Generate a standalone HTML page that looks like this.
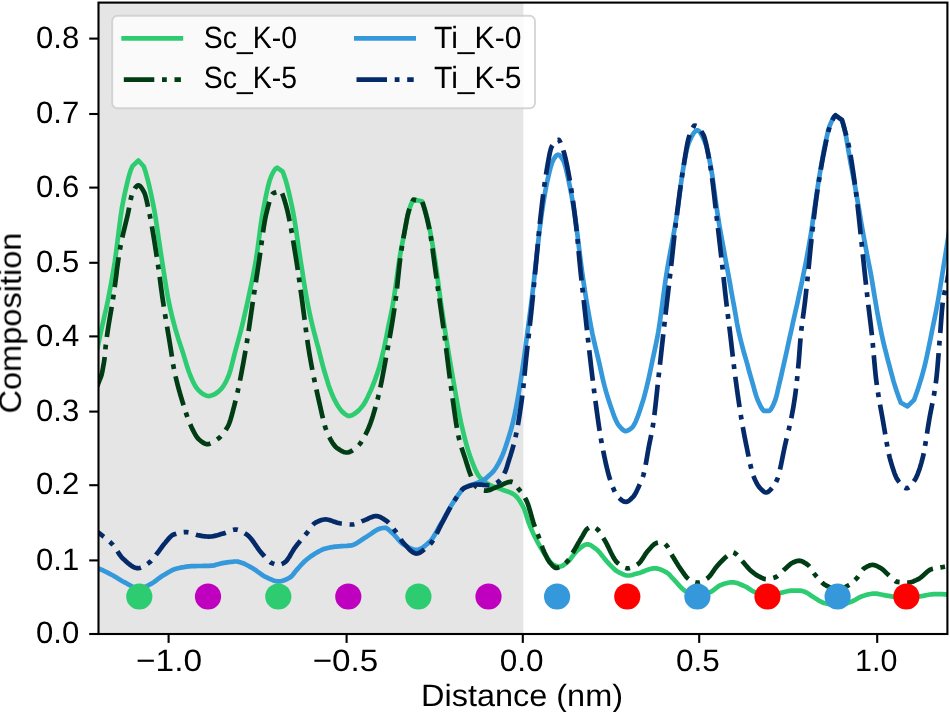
<!DOCTYPE html>
<html><head><meta charset="utf-8"><title>chart</title>
<style>
html,body{margin:0;padding:0;background:#fff;}
svg{display:block;text-rendering:geometricPrecision;font-family:"Liberation Sans",sans-serif;}
</style></head><body>
<svg width="950" height="712" viewBox="0 0 950 712">
<defs><clipPath id="ax"><rect x="98.5" y="2.6" width="848.9" height="631.4"/></clipPath></defs>
<rect x="0" y="0" width="950" height="712" fill="#ffffff"/>
<rect x="98.5" y="2.6" width="424.9" height="631.4" fill="#e5e5e5"/>

<g clip-path="url(#ax)" fill="none" stroke-linejoin="round">
<path d="M97.0,350.0 L98.5,343.0 L100.0,336.2 L101.4,329.5 L102.9,322.9 L104.4,316.2 L105.9,309.8 L107.4,303.1 L108.8,295.8 L110.3,288.0 L111.8,279.7 L113.3,271.0 L114.8,261.8 L116.2,251.5 L117.7,239.8 L119.2,227.7 L120.7,216.4 L122.1,206.9 L123.6,199.3 L125.1,192.1 L126.6,185.4 L128.1,179.3 L129.5,174.0 L131.0,169.5 L132.5,166.1 L138.4,160.5 L143.8,166.5 L145.3,171.1 L146.8,176.3 L148.3,182.1 L149.8,188.5 L151.3,195.3 L152.8,202.5 L154.3,210.2 L155.8,219.2 L157.3,229.0 L158.8,239.3 L160.3,249.5 L161.8,259.4 L163.3,269.0 L164.8,278.6 L166.3,288.0 L167.8,296.7 L169.3,304.2 L170.8,311.1 L172.3,317.4 L173.8,323.2 L175.3,328.7 L176.8,333.7 L178.2,338.4 L179.7,342.9 L181.2,347.4 L182.7,352.0 L184.2,356.9 L185.7,361.9 L187.2,366.7 L188.7,371.2 L190.2,375.3 L191.7,378.8 L193.2,382.1 L194.7,385.0 L196.2,387.5 L197.7,389.3 L199.2,390.9 L200.7,392.3 L202.2,393.5 L203.7,394.4 L205.2,395.1 L206.7,395.7 L208.2,396.1 L209.7,396.0 L211.2,395.6 L212.7,395.1 L214.2,394.4 L215.7,393.6 L217.2,392.5 L218.7,391.3 L220.2,389.9 L221.7,388.3 L223.2,386.4 L224.7,383.9 L226.2,381.1 L227.7,377.8 L229.2,374.1 L230.7,369.2 L232.2,363.5 L233.7,357.4 L235.2,351.5 L236.7,346.0 L238.2,340.5 L239.7,335.0 L241.2,329.3 L242.7,323.4 L244.1,317.1 L245.6,310.6 L247.1,303.9 L248.6,297.0 L250.1,290.1 L251.6,282.9 L253.1,275.4 L254.6,267.5 L256.1,258.9 L257.6,248.8 L259.1,237.6 L260.6,226.4 L262.1,216.2 L263.6,207.8 L265.1,200.2 L266.6,192.9 L268.1,186.3 L269.6,180.7 L271.1,176.4 L272.6,173.3 L274.1,170.7 L275.6,168.7 L277.1,167.7 L282.6,171.5 L284.1,175.4 L285.6,180.0 L287.1,185.4 L288.6,191.3 L290.0,197.6 L291.5,204.4 L293.0,211.6 L294.5,220.0 L296.0,229.5 L297.5,239.8 L299.0,250.1 L300.5,260.0 L302.0,269.4 L303.4,278.9 L304.9,288.2 L306.4,296.8 L307.9,304.7 L309.4,312.1 L310.9,319.0 L312.4,325.5 L313.9,331.5 L315.4,337.1 L316.8,342.6 L318.3,348.0 L319.8,353.8 L321.3,359.9 L322.8,365.7 L324.3,371.0 L325.8,376.0 L327.3,380.9 L328.7,385.5 L330.2,389.7 L331.7,393.5 L333.2,397.0 L334.7,400.2 L336.2,403.0 L337.7,405.6 L339.2,407.8 L340.7,409.8 L342.1,411.6 L343.6,412.9 L345.1,414.1 L346.6,415.1 L348.1,415.8 L349.6,416.0 L351.1,415.6 L352.6,414.9 L354.1,414.0 L355.5,413.0 L357.0,411.9 L358.5,410.6 L360.0,409.0 L361.5,407.3 L363.0,405.4 L364.5,403.1 L366.0,400.5 L367.5,397.5 L368.9,394.4 L370.4,391.2 L371.9,387.7 L373.4,384.0 L374.9,380.1 L376.4,375.9 L377.9,371.4 L379.4,366.7 L380.9,361.4 L382.3,355.5 L383.8,349.2 L385.3,342.2 L386.8,334.6 L388.3,327.0 L389.8,319.7 L391.3,312.4 L392.8,304.7 L394.2,296.0 L395.7,285.8 L397.2,274.8 L398.7,264.2 L400.2,254.7 L401.7,246.4 L403.2,238.7 L404.7,231.1 L406.2,223.1 L407.6,215.6 L409.1,209.9 L410.6,205.5 L412.1,201.9 L413.6,199.6 L422.0,201.2 L423.5,205.2 L425.0,210.0 L426.5,215.4 L428.0,221.4 L429.5,228.3 L431.0,236.1 L432.5,244.5 L434.0,253.4 L435.5,263.0 L437.0,273.9 L438.5,285.3 L440.0,296.5 L441.5,306.9 L443.0,317.1 L444.5,327.1 L446.0,336.8 L447.5,346.2 L449.0,355.4 L450.5,364.3 L452.0,373.0 L453.5,381.6 L455.0,390.3 L456.5,398.9 L458.0,407.2 L459.5,415.1 L461.0,422.5 L462.5,429.1 L464.0,435.3 L465.5,441.2 L467.0,446.6 L468.5,451.6 L470.0,456.0 L471.5,460.1 L473.0,464.0 L474.5,467.7 L476.0,471.1 L477.5,473.9 L479.0,476.3 L480.5,478.0 L482.0,479.5 L483.5,480.8 L485.0,482.0 L486.5,483.0 L488.0,483.9 L489.5,484.7 L491.0,485.5 L492.5,486.2 L494.0,486.7 L495.5,487.3 L497.0,487.8 L498.5,488.3 L500.0,488.8 L501.5,489.4 L503.0,490.0 L504.5,490.5 L506.0,491.0 L507.5,491.5 L509.0,492.0 L510.5,492.6 L512.0,493.4 L513.5,494.2 L515.0,495.3 L516.5,496.7 L518.0,498.5 L519.5,500.6 L521.0,503.0 L522.5,505.6 L524.0,508.5 L525.5,512.6 L527.0,517.6 L528.5,522.2 L530.0,526.0 L531.5,529.5 L533.0,532.9 L534.5,536.0 L536.0,539.1 L537.5,542.0 L539.0,544.7 L540.5,547.4 L542.0,549.9 L543.5,552.3 L545.0,554.6 L546.5,556.7 L548.0,558.9 L549.5,560.9 L551.0,562.7 L552.5,564.2 L554.0,565.0 L555.5,565.7 L557.0,566.2 L558.5,566.5 L560.0,566.6 L561.5,566.2 L563.0,565.5 L564.5,564.4 L566.0,563.3 L567.5,562.2 L569.0,560.7 L570.5,558.9 L572.0,556.9 L573.5,554.9 L575.0,553.0 L576.5,551.3 L578.0,550.0 L579.5,548.7 L581.0,547.5 L582.5,546.3 L584.0,545.3 L585.5,544.6 L587.0,544.3 L588.5,544.4 L590.0,544.9 L591.5,545.7 L593.0,546.8 L594.5,547.9 L596.0,549.0 L597.5,550.2 L599.0,551.8 L600.5,553.6 L602.0,555.5 L603.5,557.4 L605.0,559.3 L606.5,561.1 L608.0,562.7 L609.5,564.3 L611.0,565.9 L612.5,567.4 L614.0,568.9 L615.5,570.2 L617.0,571.2 L618.5,572.1 L620.0,572.9 L621.5,573.6 L623.0,574.3 L624.5,574.9 L626.0,575.3 L627.5,575.5 L629.0,575.5 L630.5,575.3 L632.0,575.0 L633.5,574.6 L635.0,574.1 L636.5,573.7 L638.0,573.3 L639.5,572.9 L641.0,572.4 L642.5,571.8 L644.0,571.2 L645.5,570.6 L647.0,570.1 L648.5,569.5 L650.0,569.1 L651.5,568.7 L653.0,568.4 L654.5,568.3 L656.0,568.4 L657.5,568.6 L659.0,569.0 L660.5,569.5 L662.0,570.1 L663.5,570.8 L665.0,571.6 L666.5,572.4 L668.0,573.4 L669.5,574.8 L671.0,576.5 L672.5,578.2 L674.0,579.7 L675.5,581.3 L677.0,583.0 L678.5,584.7 L680.0,586.4 L681.5,588.0 L683.0,589.4 L684.5,590.5 L686.0,591.4 L687.5,592.2 L689.0,593.0 L690.5,593.8 L692.0,594.4 L693.5,594.9 L695.0,595.3 L696.5,595.5 L698.0,595.5 L699.5,595.3 L701.0,595.1 L702.5,594.7 L704.0,594.3 L705.5,593.8 L707.0,593.3 L708.5,592.7 L710.0,592.1 L711.5,591.5 L713.0,590.5 L714.5,589.4 L716.0,588.2 L717.5,587.0 L719.0,585.9 L720.5,585.2 L722.0,584.6 L723.5,584.1 L725.0,583.6 L726.5,583.2 L728.0,582.8 L729.5,582.5 L731.0,582.4 L732.5,582.3 L734.0,582.4 L735.5,582.7 L737.0,583.1 L738.5,583.6 L740.0,584.2 L741.5,584.8 L743.0,585.5 L744.5,586.1 L746.0,586.8 L747.5,587.8 L749.0,588.8 L750.5,589.8 L752.0,590.7 L753.5,591.5 L755.0,592.1 L756.5,592.7 L758.0,593.2 L759.5,593.7 L761.0,594.2 L762.5,594.6 L764.0,594.9 L765.5,595.1 L767.0,595.2 L768.5,595.2 L770.0,595.0 L771.5,594.8 L773.0,594.5 L774.5,594.2 L776.0,593.9 L777.5,593.5 L779.0,593.2 L780.5,592.9 L782.0,592.6 L783.5,592.2 L785.0,591.8 L786.5,591.5 L788.0,591.1 L789.5,590.8 L791.0,590.6 L792.5,590.6 L794.0,590.6 L795.5,590.6 L797.0,590.6 L798.5,590.6 L800.0,590.6 L801.5,590.8 L803.0,591.2 L804.5,591.7 L806.0,592.4 L807.5,593.1 L809.0,594.1 L810.5,595.2 L812.0,596.2 L813.5,597.1 L815.0,598.1 L816.5,599.1 L818.0,600.0 L819.5,600.9 L821.0,601.7 L822.5,602.4 L824.0,602.9 L825.5,603.3 L827.0,603.7 L828.5,604.1 L830.0,604.5 L831.5,604.8 L833.0,605.1 L834.5,605.3 L836.0,605.4 L837.5,605.5 L839.0,605.4 L840.5,605.3 L842.0,604.9 L843.5,604.5 L845.0,604.1 L846.5,603.5 L848.0,602.9 L849.5,602.3 L851.0,601.7 L852.5,601.2 L854.0,600.5 L855.5,599.7 L857.0,598.8 L858.5,597.9 L860.0,597.1 L861.5,596.5 L863.0,595.9 L864.5,595.5 L866.0,595.0 L867.5,594.6 L869.0,594.3 L870.5,594.0 L872.0,593.7 L873.5,593.6 L875.0,593.6 L876.5,593.7 L878.0,593.9 L879.5,594.2 L881.0,594.5 L882.5,594.8 L884.0,595.1 L885.5,595.4 L887.0,595.7 L888.5,595.9 L890.0,596.1 L891.5,596.4 L893.0,596.6 L894.5,596.8 L896.0,597.1 L897.5,597.3 L899.0,597.5 L900.5,597.7 L902.0,597.8 L903.5,597.9 L905.0,598.0 L906.5,598.0 L908.0,597.9 L909.5,597.8 L911.0,597.7 L912.5,597.5 L914.0,597.3 L915.5,597.0 L917.0,596.8 L918.5,596.5 L920.0,596.3 L921.5,596.1 L923.0,595.9 L924.5,595.6 L926.0,595.3 L927.5,595.0 L929.0,594.7 L930.5,594.5 L932.0,594.3 L933.5,594.1 L935.0,594.1 L936.5,594.1 L938.0,594.1 L939.5,594.1 L941.0,594.2 L942.5,594.2 L944.0,594.3 L945.5,594.4 L947.0,594.6 L948.5,594.8 L950.0,595.0" stroke="#2ecc71" stroke-width="4.7" stroke-linecap="square"/>
<g stroke-width="4.7">
<path d="M95.0,392.0 L95.5,390.8 L96.0,389.6 L96.5,388.3 L97.0,387.0 L97.5,385.7 L98.0,384.3 L98.5,382.9 L99.0,381.5 L99.5,380.3 L100.1,378.9 L100.7,377.4 L101.2,376.0 L101.6,374.7 L102.0,373.0 L102.3,371.6 L102.6,370.0 L102.9,368.4 L103.2,366.7 L103.5,365.0 L103.8,363.3 L104.1,361.4 L104.3,360.1 L104.5,358.7 L104.7,357.1 L104.9,355.1 L105.1,352.7 L105.3,350.3 L105.5,348.0 L105.7,346.1 L105.9,344.4 L106.1,342.8 L106.3,341.2 L106.5,339.6 L106.7,338.0 L106.9,336.5 L107.1,335.1 L107.3,333.7 L107.5,332.3 L107.7,330.9 L107.9,329.6 L108.1,328.3 L108.4,326.4 L108.7,324.5 L109.0,322.7 L109.3,320.9 L109.6,319.1 L109.9,317.4 L110.2,315.6 L110.5,313.9 L110.8,312.2 L111.1,310.5 L111.4,308.7 L111.7,307.0 L112.0,305.2 L112.3,303.4 L112.6,301.5 L112.9,299.6 L113.1,298.3 L113.3,297.0 L113.5,295.6 L113.7,294.3 L113.9,292.9 L114.1,291.4 L114.3,290.0 L114.5,288.6 L114.7,287.1 L114.9,285.6 L115.1,284.1 L115.3,282.6 L115.5,281.1 L115.7,279.6 L115.9,278.1 L116.1,276.6 L116.3,275.1 L116.5,273.6 L116.7,272.1 L116.8,270.6 L117.0,269.2 L117.2,267.7 L117.4,266.2 L117.6,264.8 L117.8,263.3 L118.0,261.9 L118.2,260.5 L118.4,259.1 L118.6,257.8 L118.8,256.4 L119.0,255.1 L119.3,253.2 L119.6,251.4 L119.9,249.6 L120.2,247.9 L120.5,246.3 L120.8,244.7 L121.1,243.2 L121.4,241.7 L121.7,240.3 L122.0,238.9 L122.3,237.5 L122.6,236.1 L122.9,234.8 L123.2,233.5 L123.5,232.2 L123.9,230.5 L124.3,228.9 L124.7,227.2 L125.1,225.6 L125.5,224.0 L125.9,222.3 L126.3,220.7 L126.7,219.0 L127.0,217.8 L127.3,216.5 L127.6,215.2 L127.9,213.8 L128.2,212.5 L128.5,211.0 L128.8,209.5 L129.1,207.9 L129.4,206.3 L129.7,204.7 L130.0,203.1 L130.3,201.5 L130.6,200.0 L130.9,198.6 L131.2,197.2 L131.6,195.6 L132.0,194.3 L132.5,193.0 L133.1,191.7 L133.7,190.6 L134.4,189.3 L135.1,188.1 L135.9,187.0 L136.8,186.0 L138.0,185.3 L139.3,185.5 L140.4,186.4 L141.3,187.5 L142.1,188.7 L142.8,189.8 L143.5,191.1 L144.2,192.4 L144.7,193.6 L145.2,195.1 L145.6,196.4 L146.0,197.9 L146.4,199.5 L146.7,200.8 L147.0,202.1 L147.3,203.5 L147.6,204.9 L147.9,206.3 L148.2,207.8 L148.5,209.2 L148.8,210.6 L149.1,212.1 L149.4,213.5 L149.7,214.9 L150.0,216.4 L150.3,217.9 L150.6,219.4 L150.9,221.0 L151.2,222.6 L151.5,224.3 L151.8,225.9 L152.1,227.6 L152.4,229.4 L152.7,231.1 L153.0,232.9 L153.3,234.7 L153.6,236.5 L153.9,238.4 L154.2,240.2 L154.5,242.1 L154.8,244.0 L155.1,245.9 L155.4,247.8 L155.6,249.1 L155.8,250.4 L156.0,251.7 L156.2,253.0 L156.4,254.3 L156.6,255.6 L156.8,256.9 L157.0,258.2 L157.2,259.5 L157.4,260.8 L157.6,262.2 L157.8,263.5 L158.0,264.9 L158.2,266.3 L158.4,267.7 L158.6,269.1 L158.8,270.6 L159.0,272.0 L159.2,273.5 L159.4,275.0 L159.6,276.5 L159.8,278.0 L160.0,279.5 L160.2,281.0 L160.4,282.6 L160.6,284.1 L160.8,285.6 L161.0,287.1 L161.2,288.6 L161.4,290.1 L161.6,291.5 L161.8,293.0 L162.0,294.4 L162.2,295.9 L162.4,297.3 L162.6,298.6 L162.8,300.0 L163.0,301.3 L163.2,302.7 L163.4,304.0 L163.6,305.3 L163.8,306.6 L164.1,308.5 L164.4,310.4 L164.7,312.3 L165.0,314.2 L165.3,316.0 L165.6,317.9 L165.9,319.7 L166.2,321.5 L166.5,323.3 L166.8,325.1 L167.1,326.9 L167.4,328.7 L167.7,330.5 L168.0,332.3 L168.3,334.1 L168.6,335.9 L168.9,337.7 L169.2,339.5 L169.5,341.3 L169.8,343.2 L170.1,345.0 L170.4,346.9 L170.7,348.7 L171.0,350.6 L171.3,352.5 L171.5,353.9 L171.7,355.2 L171.9,356.6 L172.1,358.0 L172.3,359.3 L172.5,360.6 L172.7,361.9 L173.0,363.8 L173.3,365.5 L173.6,367.1 L173.9,368.6 L174.2,370.1 L174.5,371.5 L174.8,372.9 L175.1,374.3 L175.4,375.6 L175.7,377.0 L176.0,378.2 L176.3,379.5 L176.7,381.2 L177.1,382.8 L177.5,384.3 L177.9,385.9 L178.3,387.4 L178.7,388.9 L179.1,390.3 L179.5,391.7 L179.9,393.1 L180.3,394.5 L180.7,395.9 L181.1,397.2 L181.5,398.5 L181.9,399.9 L182.3,401.2 L182.7,402.5 L183.1,403.8 L183.5,405.1 L183.9,406.4 L184.3,407.7 L184.7,409.0 L185.1,410.2 L185.6,411.8 L186.1,413.3 L186.6,414.8 L187.1,416.2 L187.6,417.6 L188.1,419.0 L188.6,420.3 L189.1,421.6 L189.6,422.9 L190.2,424.3 L190.8,425.6 L191.4,426.9 L192.0,428.2 L192.6,429.4 L193.2,430.6 L193.8,431.8 L194.5,433.1 L195.2,434.4 L195.9,435.6 L196.7,436.8 L197.5,437.9 L198.4,438.9 L199.4,439.8 L200.5,440.7 L201.6,441.6 L202.7,442.4 L203.9,443.1 L205.1,443.7 L206.4,444.1 L207.7,444.2 L209.0,444.0 L210.3,443.6 L211.5,443.1 L212.7,442.4 L213.8,441.7 L214.9,441.0 L216.0,440.2 L217.1,439.4 L218.2,438.6 L219.2,437.8 L220.2,436.9 L221.2,435.8 L222.1,434.9 L223.0,433.8 L223.8,432.8 L224.6,431.7 L225.4,430.5 L226.2,429.2 L226.9,428.1 L227.6,426.9 L228.3,425.5 L228.9,424.1 L229.4,422.8 L229.9,421.4 L230.4,419.9 L230.8,418.6 L231.2,417.3 L231.6,415.9 L232.0,414.4 L232.4,413.0 L232.8,411.5 L233.2,409.9 L233.6,408.3 L234.0,406.8 L234.4,405.2 L234.8,403.6 L235.2,402.0 L235.6,400.4 L236.0,398.8 L236.4,397.1 L236.7,395.8 L237.0,394.5 L237.3,393.2 L237.6,391.9 L237.9,390.5 L238.2,389.1 L238.5,387.7 L238.8,386.3 L239.1,384.9 L239.4,383.4 L239.7,381.9 L240.0,380.4 L240.3,378.9 L240.6,377.4 L240.9,375.9 L241.2,374.3 L241.5,372.7 L241.8,371.1 L242.1,369.5 L242.4,367.9 L242.7,366.3 L243.0,364.7 L243.3,363.0 L243.6,361.4 L243.9,359.7 L244.2,358.0 L244.5,356.3 L244.8,354.6 L245.1,352.9 L245.4,351.2 L245.7,349.4 L246.0,347.7 L246.3,345.8 L246.6,344.0 L246.9,342.1 L247.2,340.2 L247.4,338.9 L247.6,337.6 L247.8,336.3 L248.0,334.9 L248.2,333.6 L248.4,332.2 L248.6,330.9 L248.8,329.5 L249.0,328.2 L249.2,326.8 L249.4,325.4 L249.6,324.0 L249.8,322.6 L250.0,321.2 L250.2,319.8 L250.4,318.5 L250.6,317.1 L250.8,315.7 L251.0,314.3 L251.2,312.9 L251.4,311.5 L251.6,310.1 L251.8,308.8 L252.0,307.4 L252.2,306.0 L252.4,304.7 L252.6,303.3 L252.8,302.0 L253.0,300.7 L253.2,299.3 L253.4,298.0 L253.6,296.7 L253.8,295.4 L254.0,294.1 L254.2,292.8 L254.4,291.5 L254.6,290.2 L254.8,288.9 L255.0,287.6 L255.2,286.3 L255.4,285.0 L255.6,283.7 L255.8,282.4 L256.0,281.1 L256.2,279.8 L256.4,278.5 L256.6,277.2 L256.8,275.9 L257.0,274.6 L257.2,273.3 L257.4,272.0 L257.6,270.7 L257.8,269.4 L258.0,268.1 L258.2,266.7 L258.4,265.4 L258.6,264.1 L258.8,262.8 L259.0,261.5 L259.2,260.2 L259.4,258.8 L259.6,257.4 L259.8,256.0 L260.0,254.6 L260.2,253.1 L260.4,251.7 L260.6,250.2 L260.8,248.7 L261.0,247.2 L261.2,245.7 L261.4,244.2 L261.6,242.7 L261.8,241.3 L262.0,239.8 L262.2,238.3 L262.4,236.8 L262.6,235.3 L262.8,233.9 L263.0,232.5 L263.2,231.1 L263.4,229.7 L263.6,228.3 L263.8,227.0 L264.0,225.7 L264.3,223.8 L264.6,222.0 L264.9,220.3 L265.2,218.7 L265.5,217.2 L265.8,215.8 L266.2,214.2 L266.6,212.5 L267.0,210.9 L267.4,209.3 L267.8,207.7 L268.2,206.1 L268.6,204.6 L269.0,203.1 L269.4,201.7 L269.8,200.4 L270.2,199.1 L270.7,197.7 L271.2,196.4 L271.8,195.1 L272.5,194.0 L273.5,193.2 L274.7,192.7 L276.0,192.2 L277.3,191.8 L278.6,191.5 L279.9,191.4 L281.2,191.3 L281.8,192.5 L282.3,193.7 L282.8,195.1 L283.3,196.5 L283.8,198.0 L284.2,199.2 L284.6,200.5 L285.0,201.9 L285.4,203.3 L285.8,204.7 L286.2,206.2 L286.6,207.7 L287.0,209.2 L287.4,210.8 L287.8,212.5 L288.1,213.8 L288.4,215.1 L288.7,216.5 L289.0,217.9 L289.3,219.4 L289.6,220.9 L289.9,222.4 L290.2,224.0 L290.5,225.6 L290.8,227.2 L291.1,228.8 L291.4,230.5 L291.7,232.2 L292.0,233.9 L292.3,235.7 L292.6,237.5 L292.9,239.3 L293.2,241.1 L293.5,242.9 L293.8,244.7 L294.1,246.5 L294.4,248.4 L294.7,250.3 L295.0,252.1 L295.3,254.0 L295.6,255.9 L295.9,257.7 L296.2,259.6 L296.5,261.5 L296.8,263.4 L297.0,264.7 L297.2,266.0 L297.4,267.3 L297.6,268.6 L297.8,270.0 L298.0,271.4 L298.2,272.7 L298.4,274.1 L298.6,275.5 L298.8,276.9 L299.0,278.3 L299.2,279.8 L299.4,281.2 L299.6,282.6 L299.8,284.1 L300.0,285.5 L300.2,287.0 L300.4,288.4 L300.6,289.9 L300.8,291.3 L301.0,292.8 L301.2,294.2 L301.4,295.7 L301.6,297.1 L301.8,298.6 L302.0,300.0 L302.2,301.4 L302.4,302.9 L302.6,304.4 L302.8,305.9 L303.0,307.4 L303.2,308.9 L303.4,310.4 L303.6,311.9 L303.8,313.5 L304.0,315.0 L304.2,316.6 L304.4,318.1 L304.6,319.7 L304.8,321.2 L305.0,322.8 L305.2,324.3 L305.4,325.9 L305.6,327.4 L305.8,329.0 L306.0,330.5 L306.2,332.0 L306.4,333.5 L306.6,335.0 L306.8,336.5 L307.0,337.9 L307.2,339.3 L307.4,340.8 L307.6,342.2 L307.8,343.5 L308.0,344.9 L308.2,346.2 L308.4,347.5 L308.7,349.4 L309.0,351.2 L309.3,353.0 L309.6,354.8 L309.9,356.5 L310.2,358.2 L310.5,359.9 L310.8,361.6 L311.1,363.2 L311.4,364.9 L311.7,366.5 L312.0,368.1 L312.3,369.7 L312.6,371.2 L312.9,372.7 L313.2,374.3 L313.5,375.8 L313.8,377.3 L314.1,378.7 L314.4,380.2 L314.7,381.7 L315.0,383.1 L315.3,384.5 L315.6,385.9 L315.9,387.3 L316.2,388.7 L316.5,390.1 L316.8,391.4 L317.1,392.8 L317.4,394.1 L317.7,395.5 L318.0,396.8 L318.3,398.1 L318.6,399.5 L318.9,400.8 L319.2,402.1 L319.5,403.4 L319.8,404.7 L320.1,406.1 L320.4,407.4 L320.7,408.7 L321.0,410.1 L321.3,411.4 L321.6,412.7 L321.9,414.1 L322.2,415.4 L322.5,416.6 L322.8,417.9 L323.2,419.6 L323.6,421.2 L324.0,422.7 L324.4,424.2 L324.8,425.6 L325.2,427.0 L325.6,428.3 L326.1,429.7 L326.6,431.0 L327.2,432.4 L327.8,433.8 L328.4,435.1 L329.0,436.4 L329.6,437.6 L330.2,438.8 L330.9,440.1 L331.6,441.3 L332.3,442.5 L333.1,443.7 L333.9,444.8 L334.8,445.9 L335.7,446.9 L336.7,447.8 L337.8,448.6 L338.9,449.3 L340.0,450.0 L341.2,450.7 L342.4,451.4 L343.6,451.9 L344.9,452.3 L346.2,452.5 L347.5,452.5 L348.8,452.2 L350.1,451.7 L351.3,451.1 L352.5,450.4 L353.6,449.6 L354.7,448.8 L355.8,448.0 L356.9,447.1 L357.9,446.2 L358.8,445.2 L359.7,444.2 L360.5,443.1 L361.3,441.9 L362.0,440.8 L362.7,439.6 L363.4,438.4 L364.1,437.2 L364.8,435.9 L365.4,434.7 L366.0,433.5 L366.6,432.3 L367.2,431.1 L367.8,429.8 L368.4,428.4 L368.9,427.2 L369.4,426.0 L369.9,424.6 L370.4,423.3 L370.9,421.9 L371.4,420.4 L371.9,418.9 L372.4,417.4 L372.8,416.2 L373.2,414.9 L373.6,413.6 L374.0,412.2 L374.4,410.9 L374.8,409.5 L375.2,408.1 L375.6,406.7 L376.0,405.2 L376.4,403.8 L376.8,402.3 L377.2,400.8 L377.6,399.3 L378.0,397.7 L378.4,396.0 L378.7,394.8 L379.0,393.5 L379.3,392.1 L379.6,390.8 L379.9,389.4 L380.2,388.0 L380.5,386.6 L380.8,385.1 L381.1,383.7 L381.4,382.2 L381.7,380.7 L382.0,379.2 L382.3,377.6 L382.6,376.1 L382.9,374.5 L383.2,372.9 L383.5,371.3 L383.8,369.7 L384.1,368.1 L384.4,366.5 L384.7,364.9 L385.0,363.2 L385.3,361.6 L385.6,359.9 L385.9,358.3 L386.2,356.6 L386.5,355.0 L386.8,353.3 L387.1,351.7 L387.4,350.1 L387.7,348.4 L388.0,346.8 L388.3,345.1 L388.6,343.5 L388.9,341.8 L389.2,340.1 L389.5,338.4 L389.8,336.8 L390.1,335.1 L390.4,333.3 L390.7,331.6 L391.0,329.9 L391.3,328.1 L391.6,326.3 L391.9,324.5 L392.2,322.7 L392.5,320.9 L392.8,319.0 L393.1,317.1 L393.4,315.2 L393.6,313.9 L393.8,312.5 L394.0,311.2 L394.2,309.9 L394.4,308.5 L394.6,307.1 L394.8,305.7 L395.0,304.3 L395.2,302.9 L395.4,301.5 L395.6,300.0 L395.8,298.5 L396.0,296.9 L396.2,295.3 L396.4,293.6 L396.6,291.8 L396.8,290.0 L397.0,288.2 L397.2,286.3 L397.4,284.4 L397.6,282.5 L397.8,280.6 L398.0,278.6 L398.2,276.7 L398.4,274.8 L398.6,272.9 L398.8,271.0 L399.0,269.1 L399.2,267.3 L399.4,265.5 L399.6,263.7 L399.8,262.0 L400.0,260.3 L400.2,258.7 L400.4,257.2 L400.6,255.8 L400.8,254.4 L401.0,253.0 L401.2,251.6 L401.4,250.3 L401.6,249.0 L401.8,247.7 L402.1,245.8 L402.4,244.0 L402.7,242.2 L403.0,240.4 L403.3,238.7 L403.6,237.0 L403.9,235.3 L404.2,233.6 L404.5,232.0 L404.8,230.4 L405.1,228.7 L405.4,227.0 L405.7,225.4 L406.0,223.8 L406.3,222.1 L406.6,220.6 L406.9,219.0 L407.2,217.6 L407.5,216.1 L407.8,214.8 L408.2,213.1 L408.6,211.7 L409.0,210.4 L409.4,209.1 L409.9,207.6 L410.4,206.1 L410.9,204.8 L411.4,203.5 L412.0,202.2 L412.7,200.8 L413.5,199.7 L422.0,201.2 L422.5,202.6 L423.0,204.0 L423.5,205.6 L423.9,206.9 L424.3,208.2 L424.7,209.6 L425.1,211.1 L425.5,212.6 L425.9,214.1 L426.3,215.7 L426.7,217.3 L427.1,218.9 L427.5,220.6 L427.8,221.9 L428.1,223.2 L428.4,224.6 L428.7,226.0 L429.0,227.5 L429.3,229.0 L429.6,230.5 L429.9,232.1 L430.2,233.7 L430.5,235.4 L430.8,237.1 L431.1,238.9 L431.4,240.8 L431.6,242.1 L431.8,243.5 L432.0,245.0 L432.2,246.4 L432.4,247.9 L432.6,249.4 L432.8,250.9 L433.0,252.5 L433.2,254.0 L433.4,255.5 L433.6,257.0 L433.8,258.5 L434.0,260.0 L434.2,261.5 L434.4,262.9 L434.6,264.4 L434.8,265.8 L435.0,267.3 L435.2,268.7 L435.4,270.2 L435.6,271.6 L435.8,273.1 L436.0,274.5 L436.2,276.0 L436.4,277.4 L436.6,278.9 L436.8,280.3 L437.0,281.8 L437.2,283.3 L437.4,284.7 L437.6,286.2 L437.8,287.6 L438.0,289.0 L438.2,290.5 L438.4,291.9 L438.6,293.4 L438.8,294.8 L439.0,296.2 L439.2,297.6 L439.4,299.1 L439.6,300.5 L439.8,301.9 L440.0,303.3 L440.2,304.7 L440.4,306.2 L440.6,307.6 L440.8,309.0 L441.0,310.4 L441.2,311.8 L441.4,313.3 L441.6,314.7 L441.8,316.1 L442.0,317.5 L442.2,319.0 L442.4,320.4 L442.6,321.8 L442.8,323.3 L443.0,324.7 L443.2,326.2 L443.4,327.6 L443.6,329.1 L443.8,330.6 L444.0,332.0 L444.2,333.5 L444.4,335.0 L444.6,336.5 L444.8,338.0 L445.0,339.5 L445.2,341.0 L445.4,342.6 L445.6,344.1 L445.8,345.7 L446.0,347.3 L446.2,348.9 L446.4,350.5 L446.6,352.1 L446.8,353.7 L447.0,355.3 L447.2,357.0 L447.4,358.6 L447.6,360.2 L447.8,361.8 L448.0,363.5 L448.2,365.1 L448.4,366.7 L448.6,368.3 L448.8,369.9 L449.0,371.5 L449.2,373.1 L449.4,374.7 L449.6,376.3 L449.8,377.8 L450.0,379.4 L450.2,380.9 L450.4,382.4 L450.6,383.9 L450.8,385.4 L451.0,386.9 L451.2,388.3 L451.4,389.7 L451.6,391.2 L451.8,392.6 L452.0,394.1 L452.2,395.5 L452.4,397.0 L452.6,398.4 L452.8,399.9 L453.0,401.4 L453.2,402.8 L453.4,404.3 L453.6,405.7 L453.8,407.2 L454.0,408.6 L454.2,410.0 L454.4,411.4 L454.6,412.8 L454.8,414.2 L455.0,415.6 L455.2,417.0 L455.4,418.3 L455.6,419.7 L455.8,421.0 L456.0,422.3 L456.3,424.2 L456.6,426.0 L456.9,427.8 L457.2,429.6 L457.5,431.2 L457.8,432.8 L458.1,434.3 L458.4,435.8 L458.7,437.2 L459.0,438.5 L459.4,440.1 L459.8,441.6 L460.2,443.1 L460.6,444.5 L461.0,445.9 L461.4,447.2 L461.8,448.4 L462.3,449.9 L462.8,451.4 L463.3,452.9 L463.8,454.4 L464.3,455.9 L464.8,457.4 L465.2,458.6 L465.6,459.9 L466.0,461.2 L466.4,462.5 L466.8,463.8 L467.2,465.1 L467.6,466.3 L468.0,467.6 L468.4,468.8 L468.9,470.4 L469.4,471.8 L469.9,473.2 L470.4,474.5 L470.9,475.8 L471.5,477.2 L472.0,478.4 L472.5,479.6 L473.1,481.0 L473.7,482.4 L474.3,483.7 L474.9,484.8 L475.6,486.0 L476.5,487.1 L477.6,487.9 L478.8,488.5 L480.0,489.1 L481.2,489.6 L482.5,490.1 L483.8,490.4 L485.1,490.6 L486.4,490.6 L487.7,490.4 L489.0,490.2 L490.3,489.7 L491.6,489.2 L492.8,488.7 L494.0,488.2 L495.2,487.6 L496.4,487.1 L497.7,486.6 L499.0,486.1 L500.2,485.6 L501.4,485.1 L502.6,484.5 L503.8,483.9 L505.0,483.4 L506.2,482.9 L507.5,482.4 L508.8,482.0 L510.1,481.8 L511.4,481.7 L512.7,482.1 L513.8,483.0 L514.8,484.0 L515.7,485.1 L516.5,486.2 L517.3,487.2 L518.1,488.3 L519.0,489.4 L519.9,490.5 L520.8,491.6 L521.6,492.7 L522.4,493.8 L523.2,494.9 L524.0,496.2 L524.7,497.3 L525.4,498.6 L526.1,499.9 L526.7,501.1 L527.3,502.5 L527.8,503.8 L528.3,505.3 L528.8,506.8 L529.2,508.1 L529.6,509.5 L530.0,510.8 L530.4,512.2 L530.8,513.6 L531.2,515.1 L531.6,516.5 L532.0,517.9 L532.4,519.3 L532.8,520.6 L533.2,522.0 L533.6,523.2 L534.1,524.7 L534.6,526.1 L535.1,527.5 L535.6,528.8 L536.1,530.1 L536.6,531.3 L537.1,532.6 L537.6,533.8 L538.1,535.1 L538.6,536.5 L539.1,537.9 L539.6,539.3 L540.1,540.8 L540.6,542.3 L541.1,543.8 L541.6,545.3 L542.1,546.7 L542.6,548.1 L543.1,549.4 L543.7,550.8 L544.3,552.2 L544.9,553.5 L545.5,554.9 L546.1,556.1 L546.7,557.4 L547.3,558.6 L548.0,559.8 L548.7,561.0 L549.5,562.2 L550.4,563.3 L551.3,564.3 L552.2,565.3 L553.2,566.3 L554.3,567.2 L555.5,567.8 L556.8,567.9 L558.1,567.6 L559.4,567.2 L560.6,566.6 L561.8,565.9 L562.9,565.1 L564.0,564.2 L565.1,563.3 L566.1,562.5 L567.1,561.6 L568.1,560.5 L568.9,559.5 L569.7,558.2 L570.4,557.1 L571.1,555.8 L571.8,554.5 L572.5,553.2 L573.2,552.0 L573.9,550.8 L574.6,549.6 L575.3,548.4 L576.0,547.2 L576.7,546.0 L577.4,544.7 L578.1,543.5 L578.8,542.3 L579.5,541.1 L580.2,539.8 L580.9,538.7 L581.6,537.5 L582.3,536.4 L583.0,535.2 L583.7,534.0 L584.4,532.7 L585.1,531.5 L585.9,530.3 L586.8,529.2 L587.9,528.4 L589.1,527.7 L590.3,527.1 L591.6,526.7 L592.9,526.6 L594.2,527.0 L595.4,527.8 L596.5,528.6 L597.6,529.5 L598.6,530.5 L599.5,531.6 L600.3,532.8 L601.0,534.0 L601.7,535.2 L602.4,536.4 L603.1,537.6 L603.8,538.8 L604.5,539.9 L605.2,541.1 L605.9,542.4 L606.6,543.7 L607.2,544.9 L607.8,546.1 L608.4,547.3 L609.0,548.6 L609.6,549.8 L610.2,551.0 L610.8,552.3 L611.4,553.5 L612.0,554.7 L612.7,556.0 L613.4,557.3 L614.1,558.5 L614.8,559.6 L615.6,560.8 L616.5,561.9 L617.5,562.9 L618.6,563.8 L619.7,564.7 L620.8,565.5 L621.9,566.3 L623.1,567.0 L624.3,567.6 L625.6,568.0 L626.9,568.3 L628.2,568.3 L629.5,568.1 L630.8,567.7 L632.1,567.3 L633.3,566.7 L634.5,566.1 L635.7,565.5 L636.9,564.8 L638.1,564.0 L639.2,563.1 L640.1,562.2 L641.0,561.0 L641.8,559.8 L642.6,558.6 L643.3,557.5 L644.0,556.4 L644.7,555.3 L645.5,554.0 L646.3,552.9 L647.1,551.8 L648.0,550.7 L648.9,549.7 L649.8,548.7 L650.7,547.7 L651.6,546.7 L652.6,545.7 L653.6,544.8 L654.7,543.9 L655.9,543.3 L657.2,542.8 L658.5,542.5 L659.8,542.2 L661.1,542.1 L662.4,542.2 L663.6,542.8 L664.7,543.7 L665.7,544.7 L666.7,545.7 L667.6,546.8 L668.3,548.0 L669.0,549.3 L669.6,550.5 L670.2,551.8 L670.8,553.0 L671.5,554.3 L672.2,555.5 L672.9,556.7 L673.6,557.8 L674.3,559.0 L675.0,560.2 L675.7,561.3 L676.4,562.5 L677.1,563.6 L677.8,564.7 L678.6,566.0 L679.4,567.2 L680.2,568.4 L681.0,569.5 L681.8,570.7 L682.6,571.8 L683.4,572.9 L684.2,574.1 L685.0,575.2 L685.8,576.3 L686.7,577.4 L687.7,578.4 L688.8,579.3 L690.0,580.0 L691.2,580.7 L692.4,581.3 L693.6,581.8 L694.9,582.2 L696.2,582.5 L697.5,582.6 L698.8,582.5 L700.1,582.2 L701.4,581.7 L702.6,581.1 L703.8,580.5 L705.0,579.8 L706.2,579.0 L707.3,578.3 L708.4,577.5 L709.4,576.4 L710.3,575.4 L711.1,574.3 L711.9,573.2 L712.7,572.0 L713.5,570.9 L714.3,569.7 L715.1,568.6 L715.9,567.5 L716.8,566.4 L717.7,565.4 L718.6,564.4 L719.5,563.4 L720.4,562.4 L721.3,561.5 L722.3,560.5 L723.3,559.5 L724.3,558.5 L725.3,557.6 L726.3,556.7 L727.3,555.9 L728.3,554.9 L729.3,554.0 L730.4,553.1 L731.6,552.5 L732.9,552.3 L734.2,552.8 L735.3,553.5 L736.4,554.3 L737.4,555.2 L738.3,556.1 L739.2,557.2 L740.1,558.4 L740.9,559.4 L741.8,560.6 L742.7,561.6 L743.6,562.6 L744.5,563.7 L745.4,564.8 L746.3,565.8 L747.2,566.9 L748.1,567.9 L749.0,568.9 L750.0,569.9 L751.0,570.8 L752.0,571.6 L753.1,572.5 L754.2,573.4 L755.3,574.2 L756.4,574.9 L757.6,575.7 L758.8,576.3 L760.0,576.9 L761.2,577.6 L762.4,578.1 L763.6,578.7 L764.9,579.1 L766.2,579.2 L767.5,579.1 L768.8,579.0 L770.1,578.8 L771.4,578.5 L772.7,578.1 L774.0,577.7 L775.3,577.3 L776.5,576.7 L777.6,576.0 L778.7,575.1 L779.7,574.2 L780.7,573.2 L781.6,572.2 L782.6,571.2 L783.6,570.2 L784.6,569.3 L785.6,568.4 L786.6,567.5 L787.6,566.6 L788.6,565.7 L789.6,564.8 L790.7,563.9 L791.8,563.1 L793.0,562.5 L794.2,562.0 L795.5,561.5 L796.8,561.0 L798.1,560.8 L799.4,560.7 L800.7,560.9 L802.0,561.3 L803.2,561.9 L804.4,562.6 L805.5,563.2 L806.6,564.0 L807.7,564.8 L808.8,565.7 L809.7,566.7 L810.5,567.8 L811.3,569.0 L812.0,570.2 L812.7,571.3 L813.4,572.4 L814.2,573.6 L815.0,574.6 L815.9,575.7 L816.8,576.8 L817.7,577.8 L818.6,578.9 L819.5,579.9 L820.4,580.9 L821.3,581.8 L822.3,582.8 L823.3,583.7 L824.4,584.5 L825.6,585.2 L826.8,585.8 L828.0,586.4 L829.2,587.0 L830.4,587.6 L831.7,588.1 L833.0,588.6 L834.3,589.0 L835.6,589.2 L836.9,589.4 L838.2,589.4 L839.5,589.2 L840.8,588.9 L842.1,588.5 L843.4,587.9 L844.6,587.3 L845.8,586.8 L847.0,586.1 L848.2,585.5 L849.4,584.8 L850.5,584.0 L851.6,583.1 L852.6,582.2 L853.6,581.3 L854.6,580.4 L855.6,579.4 L856.6,578.4 L857.5,577.4 L858.3,576.2 L859.1,575.0 L859.8,573.9 L860.5,572.8 L861.3,571.6 L862.1,570.4 L863.0,569.3 L864.0,568.4 L865.2,567.7 L866.4,567.0 L867.6,566.3 L868.8,565.8 L870.1,565.3 L871.4,565.0 L872.7,564.9 L874.0,565.0 L875.3,565.4 L876.6,565.9 L877.8,566.5 L879.0,567.2 L880.2,567.8 L881.4,568.5 L882.5,569.3 L883.5,570.1 L884.5,571.1 L885.5,572.1 L886.5,573.1 L887.5,574.1 L888.5,575.0 L889.5,575.9 L890.5,576.8 L891.5,577.8 L892.5,578.7 L893.5,579.7 L894.5,580.5 L895.6,581.3 L896.9,581.8 L898.2,581.9 L899.5,582.1 L900.8,582.2 L902.1,582.4 L903.4,582.5 L904.7,582.5 L906.0,582.6 L907.3,582.6 L908.6,582.6 L909.9,582.4 L911.2,582.1 L912.5,581.7 L913.8,581.2 L915.0,580.6 L916.2,580.1 L917.4,579.5 L918.6,579.0 L919.8,578.2 L920.9,577.4 L921.9,576.6 L922.9,575.7 L923.9,574.8 L924.9,573.8 L925.9,572.9 L926.9,572.0 L928.0,571.1 L929.1,570.3 L930.3,569.6 L931.6,569.1 L932.9,568.8 L934.2,568.5 L935.5,568.2 L936.8,568.0 L938.1,567.8 L939.4,567.6 L940.7,567.4 L942.0,567.2 L943.3,567.0 L944.6,566.8 L945.9,566.6 L947.2,566.4 L948.5,566.2 L949.8,566.0 L950.0,566.0" stroke="#003c14" stroke-dasharray="0 5.92 30.5 7.7 4.8 7.69 30.46 7.69 4.8 7.58 30.15 7.58 4.8 7.73 30.6 7.73 4.8 7.38 29.54 7.38 4.8 7.81 30.83 7.81 4.8 7.59 30.18 7.59 4.8 7.69 30.46 7.69 4.8 7.55 30.05 7.55 4.8 7.77 30.72 7.77 4.8 7.95 31.26 7.95 4.8 7.67 30.4 7.67 4.8 7.41 29.61 7.41 4.8 7.55 30.03 7.55 4.8 7.97 31.3 7.97 4.8 7.18 28.94 7.18 4.8 7.53 30 7.53 4.8 7.64 30.32 7.64 4.8 7.7 30.51 7.7 4.8 7.4 29.59 7.4 4.8 7.8 30.81 7.8 4.8 7.53 29.97 7.53 4.8 7.64 30.3 7.64 4.8 7.56 30.09 7.56 4.8 7.66 30.38 7.66 4.8 7.65 30.36 7.65 4.8 6.92 28.14 6.92 4.8 7.66 30.38 7.66 4.8 7.59 30.17 7.59 4.8 7.7 30.5 7.7 4.8 7.54 30.02 7.54 4.8 7.7 30.49 7.7 4.8 7.7 30.49 7.7 4.8 7.75 30.64 7.75 4.8 7.62 30.27 7.62 4.8 7.6 30.2 7.6 4.8 7.67 30.41 7.67 4.8 7.86 30.98 7.86 4.8 7.5 29.91 7.5 4.8 7.69 30.48 7.69 4.8 7.67 30.42 7.67 4.8 7.9 31.1 7.9 4.8 7.56 30.09 7.56 4.8 8 31.41 8 4.8 7.53 29.99 7.53 4.8 1005.08"/>
</g>
<path d="M97.0,567.8 L98.5,568.4 L100.0,569.1 L101.5,569.7 L103.0,570.4 L104.5,571.2 L106.0,571.9 L107.5,572.6 L109.0,573.4 L110.5,574.2 L112.0,575.0 L113.5,575.8 L115.0,576.7 L116.5,577.6 L118.0,578.5 L119.5,579.4 L120.9,580.3 L122.4,581.2 L123.9,582.0 L125.4,582.7 L126.9,583.6 L128.4,584.4 L129.9,585.3 L131.4,586.1 L132.9,586.8 L134.4,587.5 L135.9,588.0 L137.4,588.3 L138.9,588.5 L140.4,588.4 L141.9,588.1 L143.4,587.6 L144.9,587.0 L146.4,586.3 L147.9,585.5 L149.4,584.7 L150.9,583.9 L152.4,583.1 L153.9,582.1 L155.4,581.0 L156.9,579.9 L158.4,578.7 L159.9,577.6 L161.4,576.5 L162.9,575.6 L164.4,574.7 L165.9,573.8 L167.3,572.9 L168.8,572.0 L170.3,571.2 L171.8,570.4 L173.3,569.7 L174.8,569.1 L176.3,568.7 L177.8,568.3 L179.3,568.0 L180.8,567.6 L182.3,567.3 L183.8,567.1 L185.3,566.8 L186.8,566.6 L188.3,566.4 L189.8,566.3 L191.3,566.2 L192.8,566.1 L194.3,566.1 L195.8,566.1 L197.3,566.0 L198.8,566.0 L200.3,566.0 L201.8,566.0 L203.3,565.9 L204.8,565.9 L206.3,565.9 L207.8,565.8 L209.3,565.8 L210.8,565.7 L212.2,565.6 L213.7,565.4 L215.2,565.1 L216.7,564.6 L218.2,564.2 L219.7,563.8 L221.2,563.4 L222.7,563.1 L224.2,562.8 L225.7,562.6 L227.2,562.4 L228.7,562.2 L230.2,562.0 L231.7,561.8 L233.2,561.7 L234.7,561.5 L236.2,561.5 L237.7,561.6 L239.2,562.0 L240.7,562.4 L242.2,562.9 L243.7,563.5 L245.2,564.2 L246.7,565.0 L248.2,565.8 L249.7,566.6 L251.2,567.4 L252.7,568.3 L254.2,569.2 L255.7,570.2 L257.2,571.3 L258.6,572.3 L260.1,573.4 L261.6,574.5 L263.1,575.5 L264.6,576.4 L266.1,577.2 L267.6,577.9 L269.1,578.6 L270.6,579.2 L272.1,579.9 L273.6,580.5 L275.1,580.9 L276.6,581.3 L278.1,581.4 L279.6,581.3 L281.1,581.1 L282.6,580.8 L284.1,580.3 L285.6,579.7 L287.1,579.0 L288.6,578.2 L290.1,577.4 L291.6,576.2 L293.1,574.5 L294.6,572.5 L296.1,570.6 L297.6,568.9 L299.1,567.2 L300.6,565.5 L302.1,563.9 L303.6,562.3 L305.0,561.0 L306.5,559.7 L308.0,558.5 L309.5,557.3 L311.0,556.2 L312.5,555.2 L314.0,554.2 L315.5,553.3 L317.0,552.4 L318.5,551.6 L320.0,550.8 L321.5,550.0 L323.0,549.3 L324.5,548.8 L326.0,548.4 L327.5,548.0 L329.0,547.7 L330.5,547.4 L332.0,547.2 L333.5,546.9 L335.0,546.7 L336.5,546.6 L338.0,546.4 L339.5,546.3 L341.0,546.2 L342.5,546.1 L344.0,546.0 L345.5,546.0 L347.0,545.9 L348.5,545.7 L350.0,545.6 L351.4,545.4 L352.9,545.0 L354.4,544.4 L355.9,543.6 L357.4,542.8 L358.9,541.8 L360.4,540.8 L361.9,539.7 L363.4,538.7 L364.9,537.7 L366.4,536.9 L367.9,535.9 L369.4,534.9 L370.9,533.9 L372.4,532.8 L373.9,531.8 L375.4,530.8 L376.9,529.9 L378.4,529.2 L379.9,528.6 L381.4,528.3 L382.9,528.0 L384.4,527.8 L385.9,527.9 L387.4,528.7 L388.9,529.9 L390.4,531.3 L391.9,532.6 L393.4,534.0 L394.9,535.6 L396.4,537.3 L397.8,539.0 L399.3,540.7 L400.8,542.3 L402.3,543.6 L403.8,544.7 L405.3,545.5 L406.8,546.4 L408.3,547.2 L409.8,548.0 L411.3,548.6 L412.8,549.2 L414.3,549.6 L415.8,549.8 L417.3,549.8 L418.8,549.5 L420.3,548.9 L421.8,548.1 L423.3,547.1 L424.8,546.0 L426.3,544.7 L427.8,543.4 L429.3,542.1 L430.8,540.6 L432.3,538.6 L433.8,536.3 L435.3,533.8 L436.8,531.2 L438.3,528.4 L439.8,525.7 L441.3,523.1 L442.8,520.6 L444.2,518.0 L445.7,515.3 L447.2,512.6 L448.7,510.0 L450.2,507.3 L451.7,504.8 L453.2,502.4 L454.7,500.2 L456.2,498.0 L457.7,495.7 L459.2,493.6 L460.7,491.6 L462.2,489.8 L463.7,488.4 L465.2,487.4 L466.7,486.7 L468.2,486.0 L469.7,485.4 L471.2,484.9 L472.7,484.4 L474.2,484.0 L475.7,483.4 L477.2,482.9 L478.7,482.2 L480.2,481.6 L481.7,481.0 L483.2,480.2 L484.7,479.3 L486.2,478.1 L487.7,476.8 L489.1,475.5 L490.6,474.1 L492.1,472.7 L493.6,471.1 L495.1,469.0 L496.6,466.7 L498.1,464.1 L499.6,461.3 L501.1,458.3 L502.6,454.9 L504.1,451.0 L505.6,446.8 L507.1,442.2 L508.6,437.5 L510.1,432.7 L511.6,427.5 L513.1,421.6 L514.6,414.9 L516.1,407.5 L517.6,399.5 L519.1,390.6 L520.6,381.3 L522.1,371.4 L523.6,361.0 L525.1,350.2 L526.6,338.9 L528.1,327.5 L529.6,316.1 L531.1,304.6 L532.6,292.4 L534.1,279.2 L535.5,265.9 L537.0,252.8 L538.5,239.4 L540.0,226.4 L541.5,214.9 L543.0,205.0 L544.5,195.8 L546.0,187.4 L547.5,180.1 L549.0,173.6 L550.5,167.6 L552.0,162.7 L553.5,159.6 L555.0,157.2 L556.5,155.3 L558.0,154.6 L559.5,155.2 L561.0,156.9 L562.5,159.2 L564.0,162.1 L565.5,166.8 L567.0,173.2 L568.5,180.0 L570.0,187.2 L571.5,195.1 L573.0,203.8 L574.5,213.2 L576.0,223.5 L577.5,235.2 L579.0,247.6 L580.5,259.9 L582.0,271.4 L583.5,281.9 L585.0,291.7 L586.5,301.0 L588.0,309.9 L589.5,318.5 L591.0,326.6 L592.5,334.2 L594.0,341.0 L595.5,347.4 L597.0,353.6 L598.5,359.9 L600.0,366.4 L601.5,373.2 L603.0,379.9 L604.5,386.0 L606.0,391.5 L607.5,396.6 L609.0,401.2 L610.5,405.7 L612.0,410.1 L613.5,414.4 L615.0,418.3 L616.5,421.6 L618.0,424.3 L619.5,426.3 L621.0,428.0 L622.5,429.5 L624.0,430.6 L625.5,431.2 L627.0,430.9 L628.5,430.2 L630.0,429.2 L631.5,428.1 L633.0,426.5 L634.5,424.1 L636.0,420.9 L637.5,417.2 L639.0,413.0 L640.5,408.5 L642.0,403.8 L643.5,399.2 L644.9,394.0 L646.4,388.2 L647.9,381.9 L649.4,375.2 L650.9,368.0 L652.4,360.8 L653.9,353.7 L655.4,346.8 L656.9,339.6 L658.4,331.4 L659.9,321.7 L661.4,310.9 L662.9,299.5 L664.4,288.2 L665.9,277.7 L667.4,268.3 L668.9,259.7 L670.4,251.4 L671.9,243.4 L673.4,235.3 L674.9,226.9 L676.4,217.9 L677.9,207.9 L679.3,196.5 L680.8,184.7 L682.3,174.0 L683.8,165.2 L685.3,156.8 L686.8,149.4 L688.3,144.0 L689.8,140.4 L691.3,137.2 L692.8,134.5 L694.3,132.3 L695.8,130.8 L697.3,130.3 L698.8,130.9 L700.3,132.5 L701.7,135.0 L703.2,138.0 L704.7,141.3 L706.2,145.3 L707.6,151.0 L709.1,158.0 L710.6,165.8 L712.1,174.3 L713.5,184.7 L715.0,195.9 L716.5,206.9 L718.0,216.7 L719.4,225.5 L720.9,233.9 L722.4,242.2 L723.9,250.3 L725.3,258.3 L726.8,266.2 L728.3,274.3 L729.8,282.5 L731.2,290.7 L732.7,298.9 L734.2,307.0 L735.7,315.4 L737.1,323.7 L738.6,331.2 L740.1,337.7 L741.6,343.7 L743.0,349.2 L744.5,354.5 L746.0,359.7 L747.5,364.9 L748.9,370.3 L750.4,375.7 L751.9,380.9 L753.4,386.0 L754.8,391.3 L756.3,396.2 L757.8,400.3 L759.3,403.6 L760.7,406.5 L762.2,409.0 L763.7,410.8 L769.4,410.8 L770.9,409.3 L772.3,406.9 L773.8,403.7 L775.3,400.0 L776.8,394.9 L778.2,388.5 L779.7,382.2 L781.2,375.9 L782.6,369.4 L784.1,362.9 L785.6,356.2 L787.1,349.5 L788.5,342.7 L790.0,336.0 L791.5,329.4 L792.9,322.8 L794.4,316.3 L795.9,309.6 L797.4,303.0 L798.8,296.3 L800.3,289.5 L801.8,282.6 L803.2,275.4 L804.7,268.1 L806.2,260.6 L807.6,252.8 L809.1,244.5 L810.6,235.8 L812.1,226.1 L813.5,215.8 L815.0,205.4 L816.5,195.2 L817.9,185.7 L819.4,176.4 L820.9,167.2 L822.4,158.6 L823.8,150.8 L825.3,143.6 L826.8,136.7 L828.2,130.6 L829.7,125.7 L831.2,122.2 L832.7,119.1 L834.1,116.6 L835.6,115.2 L842.0,120.5 L843.5,125.1 L844.9,131.1 L846.4,138.3 L847.9,147.5 L849.4,156.0 L850.8,164.0 L852.3,171.8 L853.8,179.6 L855.3,187.7 L856.7,196.0 L858.2,204.6 L859.7,213.3 L861.1,222.0 L862.6,230.5 L864.1,238.8 L865.6,246.8 L867.0,254.4 L868.5,261.9 L870.0,269.5 L871.5,277.5 L872.9,286.1 L874.4,295.4 L875.9,304.1 L877.3,312.3 L878.8,320.3 L880.3,327.8 L881.8,334.9 L883.2,341.4 L884.7,347.6 L886.2,353.4 L887.6,359.1 L889.1,364.7 L890.6,370.3 L892.1,375.8 L893.5,381.1 L895.0,386.1 L896.5,390.7 L898.0,395.0 L899.4,399.0 L900.9,402.8 L907.5,406.4 L914.1,399.8 L915.6,395.7 L917.1,391.4 L918.6,386.9 L920.1,382.1 L921.6,377.2 L923.1,371.9 L924.6,366.2 L926.1,359.8 L927.6,352.8 L929.1,345.5 L930.6,338.2 L932.0,331.0 L933.5,323.8 L935.0,316.5 L936.5,308.9 L938.0,300.8 L939.5,291.9 L941.0,282.5 L942.5,273.0 L944.0,263.7 L945.5,254.3 L947.0,244.9 L948.5,235.5 L950.0,226.0" stroke="#3498db" stroke-width="4.7" stroke-linecap="square"/>
<g stroke-width="4.7">
<path d="M97.0,531.5 L98.1,532.3 L99.2,533.1 L100.3,534.0 L101.4,534.9 L102.5,535.7 L103.6,536.6 L104.7,537.4 L105.8,538.3 L106.9,539.2 L107.9,540.0 L108.9,540.9 L109.9,541.8 L110.9,542.8 L111.9,543.8 L112.9,544.8 L113.8,545.9 L114.6,546.9 L115.4,548.1 L116.2,549.3 L117.0,550.5 L117.7,551.6 L118.4,552.7 L119.2,554.0 L120.0,555.1 L120.8,556.2 L121.7,557.4 L122.6,558.3 L123.6,559.2 L124.6,560.1 L125.6,561.0 L126.6,561.9 L127.6,562.8 L128.6,563.6 L129.7,564.5 L130.8,565.3 L131.9,566.1 L133.1,566.8 L134.3,567.4 L135.6,567.8 L136.9,568.1 L138.2,568.2 L139.5,568.0 L140.8,567.7 L142.1,567.2 L143.3,566.6 L144.5,565.8 L145.6,565.1 L146.7,564.4 L147.8,563.6 L148.9,562.8 L150.0,561.9 L151.0,561.0 L151.9,560.0 L152.8,559.0 L153.7,557.9 L154.5,556.8 L155.3,555.8 L156.1,554.7 L157.0,553.6 L157.9,552.5 L158.7,551.4 L159.5,550.3 L160.3,549.2 L161.1,548.1 L161.9,547.0 L162.7,545.9 L163.5,544.8 L164.4,543.7 L165.3,542.7 L166.2,541.6 L167.1,540.5 L168.0,539.4 L168.9,538.4 L169.8,537.4 L170.8,536.4 L171.8,535.5 L173.0,534.8 L174.3,534.3 L175.6,533.9 L176.9,533.5 L178.2,533.2 L179.5,532.9 L180.8,532.6 L182.1,532.4 L183.4,532.2 L184.7,532.1 L186.0,532.1 L187.3,532.2 L188.6,532.4 L189.9,532.7 L191.2,533.1 L192.5,533.5 L193.8,534.0 L195.1,534.4 L196.4,534.8 L197.7,535.2 L199.0,535.4 L200.3,535.6 L201.6,535.9 L202.9,536.1 L204.2,536.3 L205.5,536.4 L206.8,536.5 L208.1,536.6 L209.4,536.6 L210.7,536.5 L212.0,536.4 L213.3,536.2 L214.6,535.9 L215.9,535.6 L217.2,535.3 L218.5,534.9 L219.8,534.5 L221.1,534.1 L222.4,533.7 L223.7,533.4 L225.0,533.0 L226.3,532.5 L227.5,532.0 L228.7,531.5 L229.9,530.9 L231.2,530.4 L232.5,530.0 L233.8,529.7 L235.1,529.5 L236.4,529.6 L237.7,529.8 L239.0,530.2 L240.3,530.7 L241.5,531.3 L242.7,532.0 L243.9,532.7 L245.0,533.4 L246.1,534.1 L247.2,534.9 L248.3,535.8 L249.3,536.7 L250.2,537.7 L251.1,538.8 L252.0,539.9 L252.8,541.0 L253.6,542.1 L254.4,543.3 L255.2,544.5 L256.0,545.6 L256.8,546.8 L257.6,548.0 L258.4,549.1 L259.2,550.2 L260.0,551.2 L260.9,552.4 L261.8,553.4 L262.7,554.4 L263.6,555.4 L264.5,556.4 L265.4,557.4 L266.3,558.4 L267.2,559.4 L268.2,560.4 L269.2,561.3 L270.3,562.2 L271.4,562.9 L272.6,563.4 L273.9,563.9 L275.2,564.4 L276.5,564.8 L277.8,565.0 L279.1,565.0 L280.4,564.6 L281.7,564.1 L282.9,563.5 L284.1,562.8 L285.2,562.1 L286.2,561.1 L287.1,560.1 L287.9,559.0 L288.7,557.8 L289.4,556.7 L290.1,555.5 L290.8,554.3 L291.5,553.1 L292.2,551.9 L292.9,550.8 L293.6,549.6 L294.4,548.4 L295.2,547.3 L296.0,546.2 L296.8,545.2 L297.7,544.1 L298.6,543.0 L299.5,541.8 L300.4,540.7 L301.3,539.7 L302.2,538.6 L303.1,537.5 L304.0,536.4 L304.9,535.4 L305.8,534.3 L306.7,533.2 L307.5,532.2 L308.3,531.1 L309.1,529.9 L309.9,528.8 L310.7,527.7 L311.5,526.6 L312.4,525.4 L313.3,524.4 L314.3,523.4 L315.4,522.7 L316.6,522.1 L317.8,521.5 L319.0,521.0 L320.3,520.4 L321.6,520.0 L322.9,519.7 L324.2,519.5 L325.5,519.4 L326.8,519.5 L328.1,519.7 L329.4,520.0 L330.7,520.4 L332.0,520.9 L333.3,521.4 L334.6,521.8 L335.9,522.3 L337.2,522.7 L338.5,523.0 L339.8,523.3 L341.1,523.5 L342.4,523.6 L343.7,523.8 L345.0,524.0 L346.3,524.1 L347.6,524.3 L348.9,524.4 L350.2,524.5 L351.5,524.5 L352.8,524.5 L354.1,524.3 L355.4,524.0 L356.7,523.5 L358.0,523.0 L359.2,522.5 L360.4,522.0 L361.6,521.4 L362.9,520.9 L364.2,520.4 L365.4,519.9 L366.6,519.4 L367.8,518.8 L369.0,518.2 L370.2,517.7 L371.4,517.2 L372.7,516.7 L374.0,516.3 L375.3,516.1 L376.6,516.1 L377.9,516.3 L379.2,516.7 L380.4,517.2 L381.6,517.8 L382.8,518.5 L384.0,519.3 L385.1,520.0 L386.2,520.7 L387.3,521.5 L388.3,522.4 L389.3,523.5 L390.2,524.5 L391.1,525.6 L392.0,526.8 L392.8,527.8 L393.6,528.9 L394.4,529.9 L395.2,530.9 L396.0,532.0 L396.8,533.2 L397.6,534.4 L398.3,535.5 L399.0,536.6 L399.7,537.7 L400.5,539.0 L401.3,540.2 L402.1,541.3 L402.9,542.4 L403.8,543.4 L404.7,544.3 L405.6,545.3 L406.5,546.3 L407.4,547.3 L408.3,548.3 L409.3,549.3 L410.3,550.3 L411.3,551.1 L412.4,552.0 L413.5,552.7 L414.7,553.2 L416.0,553.6 L417.3,553.5 L418.6,553.2 L419.8,552.6 L421.0,551.9 L422.1,551.1 L423.2,550.2 L424.2,549.4 L425.2,548.5 L426.2,547.7 L427.3,546.8 L428.3,546.0 L429.3,545.0 L430.3,544.0 L431.2,542.9 L432.1,541.8 L432.9,540.7 L433.6,539.6 L434.3,538.4 L435.0,537.1 L435.7,535.7 L436.3,534.5 L436.9,533.3 L437.5,532.1 L438.1,530.8 L438.7,529.6 L439.3,528.3 L439.9,527.1 L440.5,525.9 L441.1,524.7 L441.8,523.4 L442.5,522.1 L443.2,520.8 L443.9,519.5 L444.6,518.1 L445.3,516.8 L446.0,515.4 L446.7,514.1 L447.4,512.8 L448.1,511.5 L448.8,510.1 L449.5,508.9 L450.2,507.6 L450.9,506.3 L451.6,505.1 L452.3,504.0 L453.0,502.8 L453.7,501.7 L454.5,500.5 L455.3,499.3 L456.1,498.1 L456.9,496.8 L457.7,495.6 L458.5,494.4 L459.3,493.2 L460.1,492.1 L460.9,491.1 L461.8,490.0 L462.8,489.0 L463.9,488.2 L465.1,487.6 L466.3,487.1 L467.6,486.6 L468.9,486.1 L470.2,485.7 L471.5,485.3 L472.8,485.0 L474.1,484.8 L475.4,484.6 L476.7,484.5 L478.0,484.5 L479.3,484.6 L480.6,484.6 L481.9,484.7 L483.2,484.9 L484.5,485.0 L485.8,485.1 L487.1,485.2 L488.4,485.3 L489.7,485.3 L491.0,485.2 L492.3,484.9 L493.6,484.5 L494.8,484.0 L496.0,483.3 L497.2,482.6 L498.3,481.8 L499.4,481.0 L500.3,480.1 L501.1,479.0 L501.9,477.8 L502.6,476.6 L503.3,475.4 L504.0,474.0 L504.6,472.8 L505.2,471.6 L505.7,470.4 L506.2,469.0 L506.7,467.5 L507.1,466.2 L507.5,464.9 L507.9,463.6 L508.3,462.3 L508.7,461.0 L509.1,459.7 L509.5,458.4 L510.0,456.9 L510.4,455.7 L510.8,454.4 L511.2,453.1 L511.6,451.8 L512.0,450.5 L512.4,449.1 L512.8,447.7 L513.2,446.3 L513.6,444.8 L514.0,443.2 L514.4,441.6 L514.8,440.0 L515.2,438.3 L515.5,437.0 L515.8,435.7 L516.1,434.3 L516.4,432.9 L516.7,431.5 L517.0,430.0 L517.3,428.5 L517.6,426.8 L517.9,425.1 L518.2,423.4 L518.5,421.6 L518.8,419.7 L519.1,417.9 L519.4,415.9 L519.6,414.6 L519.8,413.3 L520.0,412.0 L520.2,410.7 L520.4,409.3 L520.6,408.0 L520.8,406.6 L521.0,405.2 L521.2,403.8 L521.4,402.4 L521.6,401.0 L521.8,399.5 L522.0,398.0 L522.2,396.5 L522.4,394.9 L522.6,393.3 L522.8,391.7 L523.0,390.0 L523.2,388.3 L523.4,386.4 L523.6,384.5 L523.8,382.6 L524.0,380.6 L524.2,378.5 L524.4,376.4 L524.6,374.3 L524.8,372.2 L525.0,370.1 L525.2,368.0 L525.4,365.9 L525.6,363.9 L525.8,361.9 L526.0,360.0 L526.2,358.1 L526.4,356.3 L526.6,354.4 L526.8,352.6 L527.0,350.8 L527.2,349.0 L527.4,347.3 L527.6,345.5 L527.8,343.7 L528.0,342.0 L528.2,340.2 L528.4,338.4 L528.6,336.6 L528.8,334.8 L529.0,333.0 L529.2,331.2 L529.4,329.3 L529.6,327.5 L529.8,325.7 L530.0,323.8 L530.2,322.0 L530.4,320.2 L530.6,318.3 L530.8,316.4 L531.0,314.6 L531.2,312.7 L531.4,310.8 L531.6,308.9 L531.8,306.9 L532.0,305.0 L532.2,303.0 L532.4,301.0 L532.6,299.0 L532.8,297.0 L533.0,295.0 L533.2,292.9 L533.4,290.9 L533.6,288.8 L533.8,286.7 L534.0,284.6 L534.2,282.5 L534.4,280.4 L534.6,278.3 L534.8,276.2 L535.0,274.2 L535.2,272.1 L535.4,270.0 L535.6,267.9 L535.8,265.8 L536.0,263.7 L536.2,261.5 L536.4,259.4 L536.6,257.2 L536.8,255.0 L537.0,252.8 L537.2,250.7 L537.4,248.5 L537.6,246.3 L537.8,244.2 L538.0,242.0 L538.2,239.9 L538.4,237.8 L538.6,235.7 L538.8,233.6 L539.0,231.6 L539.2,229.6 L539.4,227.6 L539.6,225.7 L539.8,223.8 L540.0,222.0 L540.2,220.2 L540.4,218.4 L540.6,216.6 L540.8,214.8 L541.0,213.0 L541.2,211.3 L541.4,209.5 L541.6,207.8 L541.8,206.0 L542.0,204.3 L542.2,202.6 L542.4,200.9 L542.6,199.2 L542.8,197.6 L543.0,196.0 L543.2,194.3 L543.4,192.7 L543.6,191.2 L543.8,189.6 L544.0,188.1 L544.2,186.6 L544.4,185.1 L544.6,183.7 L544.8,182.3 L545.0,180.9 L545.2,179.6 L545.4,178.2 L545.6,177.0 L545.9,175.1 L546.2,173.3 L546.5,171.5 L546.8,169.7 L547.1,167.9 L547.4,166.1 L547.7,164.4 L548.0,162.6 L548.3,160.9 L548.6,159.2 L548.9,157.6 L549.2,156.0 L549.5,154.5 L549.8,153.1 L550.1,151.8 L550.5,150.2 L550.9,148.8 L551.4,147.3 L552.0,146.1 L552.8,144.9 L553.6,143.8 L554.5,142.7 L555.4,141.7 L556.4,140.8 L557.6,140.1 L558.9,139.8 L559.7,141.0 L560.3,142.2 L560.9,143.6 L561.4,144.9 L561.9,146.2 L562.4,147.6 L562.9,149.1 L563.3,150.4 L563.7,151.7 L564.1,153.0 L564.5,154.4 L564.9,156.0 L565.3,157.6 L565.6,158.8 L565.9,160.2 L566.2,161.5 L566.5,162.9 L566.8,164.3 L567.1,165.8 L567.4,167.3 L567.7,168.9 L568.0,170.4 L568.3,172.0 L568.6,173.6 L568.9,175.3 L569.2,176.9 L569.5,178.6 L569.8,180.3 L570.1,182.1 L570.4,183.8 L570.7,185.7 L571.0,187.6 L571.3,189.5 L571.5,190.8 L571.7,192.1 L571.9,193.4 L572.1,194.8 L572.3,196.2 L572.5,197.6 L572.7,199.0 L572.9,200.4 L573.1,201.9 L573.3,203.4 L573.5,204.9 L573.7,206.4 L573.9,207.9 L574.1,209.4 L574.3,211.0 L574.5,212.6 L574.7,214.2 L574.9,215.8 L575.1,217.4 L575.3,219.0 L575.5,220.7 L575.7,222.4 L575.9,224.0 L576.1,225.8 L576.3,227.5 L576.5,229.4 L576.7,231.2 L576.9,233.2 L577.1,235.2 L577.3,237.2 L577.5,239.3 L577.7,241.4 L577.9,243.5 L578.1,245.6 L578.3,247.8 L578.5,250.0 L578.7,252.1 L578.9,254.3 L579.1,256.5 L579.3,258.6 L579.5,260.7 L579.7,262.8 L579.9,264.9 L580.1,266.9 L580.3,268.9 L580.5,270.8 L580.7,272.7 L580.9,274.6 L581.1,276.5 L581.3,278.3 L581.5,280.2 L581.7,282.0 L581.9,283.8 L582.1,285.7 L582.3,287.5 L582.5,289.3 L582.7,291.1 L582.9,292.9 L583.1,294.7 L583.3,296.5 L583.5,298.3 L583.7,300.1 L583.9,301.9 L584.1,303.7 L584.3,305.6 L584.5,307.4 L584.7,309.3 L584.9,311.1 L585.1,312.9 L585.3,314.8 L585.5,316.6 L585.7,318.5 L585.9,320.3 L586.1,322.1 L586.3,324.0 L586.5,325.8 L586.7,327.6 L586.9,329.4 L587.1,331.2 L587.3,333.0 L587.5,334.8 L587.7,336.6 L587.9,338.4 L588.1,340.2 L588.3,342.0 L588.5,343.7 L588.7,345.5 L588.9,347.3 L589.1,349.1 L589.3,350.8 L589.5,352.6 L589.7,354.4 L589.9,356.1 L590.1,357.8 L590.3,359.6 L590.5,361.3 L590.7,363.0 L590.9,364.7 L591.1,366.4 L591.3,368.1 L591.5,369.8 L591.7,371.5 L591.9,373.1 L592.1,374.8 L592.3,376.5 L592.5,378.1 L592.7,379.8 L592.9,381.4 L593.1,383.0 L593.3,384.6 L593.5,386.3 L593.7,387.8 L593.9,389.4 L594.1,391.0 L594.3,392.5 L594.5,394.1 L594.7,395.6 L594.9,397.0 L595.1,398.5 L595.3,400.0 L595.5,401.5 L595.7,403.0 L595.9,404.5 L596.1,405.9 L596.3,407.4 L596.5,408.9 L596.7,410.4 L596.9,411.8 L597.1,413.3 L597.3,414.7 L597.5,416.2 L597.7,417.6 L597.9,419.0 L598.1,420.4 L598.3,421.8 L598.5,423.2 L598.7,424.6 L598.9,426.0 L599.1,427.3 L599.3,428.6 L599.5,429.9 L599.7,431.2 L600.0,433.1 L600.3,435.0 L600.6,436.8 L600.9,438.6 L601.2,440.3 L601.5,442.0 L601.8,443.6 L602.1,445.1 L602.4,446.7 L602.7,448.3 L603.0,449.8 L603.3,451.3 L603.6,452.8 L603.9,454.3 L604.2,455.8 L604.5,457.2 L604.8,458.6 L605.1,460.0 L605.4,461.4 L605.7,462.8 L606.0,464.1 L606.3,465.4 L606.6,466.7 L607.0,468.4 L607.4,470.0 L607.8,471.6 L608.2,473.2 L608.6,474.6 L609.0,476.0 L609.4,477.4 L609.8,478.7 L610.3,480.2 L610.8,481.7 L611.3,483.0 L611.8,484.4 L612.3,485.8 L612.8,487.1 L613.3,488.3 L613.8,489.6 L614.4,490.9 L615.0,492.2 L615.6,493.4 L616.3,494.7 L617.1,495.9 L618.0,497.0 L619.0,497.9 L620.0,498.8 L621.0,499.7 L622.1,500.5 L623.3,501.2 L624.6,501.7 L625.9,501.9 L627.1,501.7 L628.3,501.1 L629.4,500.3 L630.4,499.5 L631.4,498.5 L632.4,497.6 L633.4,496.5 L634.2,495.5 L634.9,494.3 L635.6,493.1 L636.3,491.8 L636.9,490.5 L637.5,489.3 L638.1,488.0 L638.7,486.7 L639.3,485.3 L639.9,484.0 L640.5,482.7 L641.1,481.4 L641.6,480.2 L642.1,478.9 L642.6,477.5 L643.1,476.0 L643.5,474.7 L643.9,473.2 L644.3,471.5 L644.6,470.2 L644.9,468.7 L645.2,467.2 L645.5,465.6 L645.8,464.0 L646.1,462.3 L646.4,460.6 L646.7,458.9 L647.0,457.1 L647.3,455.3 L647.6,453.6 L647.9,451.9 L648.2,450.2 L648.5,448.5 L648.8,446.9 L649.1,445.3 L649.4,443.8 L649.7,442.3 L650.0,440.9 L650.3,439.4 L650.6,438.0 L650.9,436.6 L651.2,435.1 L651.5,433.6 L651.8,432.0 L652.1,430.4 L652.4,428.7 L652.7,427.0 L653.0,425.1 L653.2,423.8 L653.4,422.4 L653.6,421.0 L653.8,419.5 L654.0,418.0 L654.2,416.4 L654.4,414.8 L654.6,413.2 L654.8,411.5 L655.0,409.7 L655.2,408.0 L655.4,406.2 L655.6,404.4 L655.8,402.6 L656.0,400.8 L656.2,398.9 L656.4,397.0 L656.6,395.2 L656.8,393.3 L657.0,391.4 L657.2,389.5 L657.4,387.6 L657.6,385.7 L657.8,383.9 L658.0,382.0 L658.2,380.2 L658.4,378.3 L658.6,376.5 L658.8,374.8 L659.0,373.0 L659.2,371.2 L659.4,369.4 L659.6,367.6 L659.8,365.8 L660.0,364.0 L660.2,362.2 L660.4,360.4 L660.6,358.6 L660.8,356.8 L661.0,354.9 L661.2,353.1 L661.4,351.3 L661.6,349.5 L661.8,347.6 L662.0,345.8 L662.2,344.0 L662.4,342.2 L662.6,340.4 L662.8,338.5 L663.0,336.7 L663.2,334.9 L663.4,333.1 L663.6,331.3 L663.8,329.5 L664.0,327.7 L664.2,326.0 L664.4,324.2 L664.6,322.4 L664.8,320.7 L665.0,318.9 L665.2,317.2 L665.4,315.5 L665.6,313.7 L665.8,312.0 L666.0,310.3 L666.2,308.6 L666.4,306.9 L666.6,305.1 L666.8,303.4 L667.0,301.7 L667.2,300.0 L667.4,298.3 L667.6,296.6 L667.8,294.9 L668.0,293.2 L668.2,291.5 L668.4,289.8 L668.6,288.1 L668.8,286.4 L669.0,284.6 L669.2,282.9 L669.4,281.2 L669.6,279.5 L669.8,277.7 L670.0,276.0 L670.2,274.2 L670.4,272.5 L670.6,270.7 L670.8,269.0 L671.0,267.2 L671.2,265.4 L671.4,263.5 L671.6,261.7 L671.8,259.9 L672.0,258.0 L672.2,256.2 L672.4,254.3 L672.6,252.4 L672.8,250.6 L673.0,248.7 L673.2,246.8 L673.4,245.0 L673.6,243.1 L673.8,241.2 L674.0,239.4 L674.2,237.6 L674.4,235.8 L674.6,234.0 L674.8,232.2 L675.0,230.4 L675.2,228.6 L675.4,226.9 L675.6,225.2 L675.8,223.5 L676.0,221.9 L676.2,220.3 L676.4,218.6 L676.6,217.0 L676.8,215.4 L677.0,213.8 L677.2,212.1 L677.4,210.5 L677.6,208.9 L677.8,207.4 L678.0,205.8 L678.2,204.2 L678.4,202.6 L678.6,201.1 L678.8,199.5 L679.0,198.0 L679.2,196.5 L679.4,195.0 L679.6,193.4 L679.8,192.0 L680.0,190.5 L680.2,189.0 L680.4,187.5 L680.6,186.1 L680.8,184.7 L681.0,183.3 L681.2,181.9 L681.4,180.5 L681.6,179.1 L681.8,177.7 L682.0,176.4 L682.2,175.1 L682.4,173.8 L682.6,172.5 L682.9,170.6 L683.2,168.7 L683.5,166.8 L683.8,164.9 L684.1,163.0 L684.4,161.1 L684.7,159.2 L685.0,157.3 L685.3,155.4 L685.6,153.6 L685.9,151.8 L686.2,150.0 L686.5,148.3 L686.8,146.6 L687.1,145.0 L687.4,143.5 L687.7,142.1 L688.0,140.7 L688.4,139.0 L688.8,137.6 L689.2,136.3 L689.7,134.9 L690.2,133.5 L690.7,132.2 L691.2,130.9 L691.8,129.5 L692.4,128.3 L693.1,127.1 L694.0,125.9 L695.3,125.6 L696.6,126.1 L697.7,126.9 L698.7,127.8 L699.6,128.9 L700.4,130.0 L701.2,131.1 L702.0,132.4 L702.7,133.5 L703.4,134.8 L704.0,136.2 L704.5,137.7 L704.9,139.0 L705.3,140.5 L705.7,142.1 L706.0,143.4 L706.3,144.7 L706.6,146.1 L706.9,147.6 L707.2,149.0 L707.5,150.6 L707.8,152.2 L708.1,153.8 L708.4,155.4 L708.7,157.1 L709.0,158.8 L709.3,160.5 L709.6,162.2 L709.9,163.9 L710.2,165.7 L710.5,167.4 L710.8,169.2 L711.1,171.1 L711.3,172.4 L711.5,173.8 L711.7,175.2 L711.9,176.6 L712.1,178.1 L712.3,179.6 L712.5,181.2 L712.7,182.8 L712.9,184.4 L713.1,186.0 L713.3,187.7 L713.5,189.4 L713.7,191.1 L713.9,192.8 L714.1,194.6 L714.3,196.3 L714.5,198.1 L714.7,199.8 L714.9,201.6 L715.1,203.4 L715.3,205.2 L715.5,206.9 L715.7,208.7 L715.9,210.5 L716.1,212.2 L716.3,213.9 L716.5,215.7 L716.7,217.4 L716.9,219.0 L717.1,220.7 L717.3,222.4 L717.5,224.1 L717.7,225.8 L717.9,227.5 L718.1,229.2 L718.3,231.0 L718.5,232.7 L718.7,234.4 L718.9,236.2 L719.1,237.9 L719.3,239.6 L719.5,241.4 L719.7,243.1 L719.9,244.9 L720.1,246.6 L720.3,248.4 L720.5,250.2 L720.7,251.9 L720.9,253.7 L721.1,255.5 L721.3,257.2 L721.5,259.0 L721.7,260.8 L721.9,262.6 L722.1,264.3 L722.3,266.1 L722.5,267.9 L722.7,269.7 L722.9,271.5 L723.1,273.3 L723.3,275.1 L723.5,277.0 L723.7,278.8 L723.9,280.7 L724.1,282.5 L724.3,284.3 L724.5,286.2 L724.7,288.0 L724.9,289.9 L725.1,291.7 L725.3,293.5 L725.5,295.3 L725.7,297.1 L725.9,298.9 L726.1,300.6 L726.3,302.3 L726.5,304.1 L726.7,305.7 L726.9,307.4 L727.1,309.1 L727.3,310.7 L727.5,312.3 L727.7,313.9 L727.9,315.5 L728.1,317.1 L728.3,318.7 L728.5,320.3 L728.7,321.9 L728.9,323.5 L729.1,325.1 L729.3,326.7 L729.5,328.3 L729.7,329.9 L729.9,331.5 L730.1,333.2 L730.3,334.9 L730.5,336.6 L730.7,338.3 L730.9,340.0 L731.1,341.7 L731.3,343.5 L731.5,345.2 L731.7,347.0 L731.9,348.7 L732.1,350.4 L732.3,352.2 L732.5,353.9 L732.7,355.7 L732.9,357.4 L733.1,359.1 L733.3,360.8 L733.5,362.4 L733.7,364.1 L733.9,365.7 L734.1,367.3 L734.3,368.9 L734.5,370.5 L734.7,372.0 L734.9,373.6 L735.1,375.1 L735.3,376.7 L735.5,378.2 L735.7,379.7 L735.9,381.3 L736.1,382.8 L736.3,384.2 L736.5,385.7 L736.7,387.2 L736.9,388.7 L737.1,390.1 L737.3,391.6 L737.5,393.0 L737.7,394.4 L737.9,395.8 L738.1,397.2 L738.3,398.6 L738.5,400.0 L738.7,401.3 L738.9,402.7 L739.1,404.1 L739.3,405.4 L739.5,406.7 L739.7,408.1 L739.9,409.4 L740.1,410.7 L740.3,412.0 L740.6,413.9 L740.9,415.8 L741.2,417.6 L741.5,419.4 L741.8,421.2 L742.1,422.9 L742.4,424.7 L742.7,426.4 L743.0,428.1 L743.3,429.7 L743.6,431.4 L743.9,433.0 L744.2,434.6 L744.5,436.2 L744.8,437.7 L745.1,439.2 L745.4,440.7 L745.7,442.2 L746.0,443.7 L746.3,445.2 L746.6,446.6 L746.9,448.1 L747.2,449.6 L747.5,451.1 L747.8,452.6 L748.1,454.1 L748.4,455.6 L748.7,457.1 L749.0,458.5 L749.3,460.0 L749.6,461.4 L749.9,462.8 L750.2,464.1 L750.5,465.4 L750.8,466.7 L751.2,468.4 L751.6,470.0 L752.0,471.5 L752.4,472.8 L752.8,474.1 L753.3,475.6 L753.8,476.9 L754.3,478.1 L754.9,479.5 L755.5,480.8 L756.1,482.0 L756.7,483.2 L757.4,484.4 L758.1,485.5 L758.9,486.7 L759.8,487.8 L760.7,488.7 L761.6,489.7 L762.6,490.7 L763.6,491.5 L764.8,492.2 L766.1,492.5 L767.4,492.2 L768.6,491.5 L769.6,490.6 L770.6,489.6 L771.5,488.6 L772.4,487.6 L773.3,486.5 L774.1,485.4 L774.8,484.3 L775.5,483.1 L776.1,481.9 L776.7,480.6 L777.3,479.2 L777.8,477.8 L778.2,476.5 L778.6,475.1 L779.0,473.6 L779.4,472.0 L779.8,470.3 L780.1,469.0 L780.4,467.7 L780.7,466.3 L781.0,464.9 L781.3,463.4 L781.6,462.0 L781.9,460.5 L782.2,459.0 L782.5,457.5 L782.8,456.0 L783.1,454.5 L783.4,453.0 L783.7,451.6 L784.0,450.1 L784.3,448.7 L784.6,447.2 L784.9,445.9 L785.2,444.5 L785.5,443.2 L785.8,441.9 L786.2,440.2 L786.6,438.6 L787.0,436.9 L787.4,435.3 L787.8,433.7 L788.2,432.0 L788.6,430.4 L788.9,429.1 L789.2,427.8 L789.5,426.5 L789.8,425.2 L790.1,423.8 L790.4,422.4 L790.7,421.0 L791.0,419.5 L791.3,418.0 L791.6,416.5 L791.9,415.0 L792.2,413.4 L792.5,411.8 L792.8,410.2 L793.1,408.5 L793.4,406.8 L793.7,405.0 L794.0,403.2 L794.3,401.2 L794.5,399.9 L794.7,398.6 L794.9,397.2 L795.1,395.8 L795.3,394.3 L795.5,392.8 L795.7,391.2 L795.9,389.5 L796.1,387.8 L796.3,386.1 L796.5,384.3 L796.7,382.5 L796.9,380.6 L797.1,378.7 L797.3,376.7 L797.5,374.7 L797.7,372.7 L797.9,370.7 L798.1,368.6 L798.3,366.5 L798.5,364.3 L798.7,362.0 L798.9,359.5 L799.1,356.9 L799.2,355.6 L799.3,354.3 L799.4,352.9 L799.5,351.6 L799.6,350.3 L799.7,348.9 L799.8,347.6 L799.9,346.2 L800.0,344.9 L800.1,343.6 L800.3,341.1 L800.5,338.6 L800.7,336.3 L800.9,334.2 L801.1,332.2 L801.3,330.4 L801.5,328.6 L801.7,326.9 L801.9,325.2 L802.1,323.6 L802.3,322.0 L802.5,320.5 L802.7,319.0 L802.9,317.6 L803.1,316.1 L803.3,314.7 L803.5,313.2 L803.7,311.8 L803.9,310.3 L804.1,308.8 L804.3,307.2 L804.5,305.7 L804.7,304.0 L804.9,302.4 L805.1,300.7 L805.3,298.9 L805.5,297.2 L805.7,295.5 L805.9,293.7 L806.1,291.9 L806.3,290.1 L806.5,288.3 L806.7,286.5 L806.9,284.7 L807.1,282.8 L807.3,280.9 L807.5,279.1 L807.7,277.1 L807.9,275.2 L808.1,273.2 L808.3,271.2 L808.5,269.2 L808.7,267.1 L808.9,265.1 L809.1,263.0 L809.3,260.9 L809.5,258.8 L809.7,256.8 L809.9,254.7 L810.1,252.7 L810.3,250.6 L810.5,248.6 L810.7,246.6 L810.9,244.7 L811.1,242.8 L811.3,240.9 L811.5,239.1 L811.7,237.3 L811.9,235.4 L812.1,233.6 L812.3,231.8 L812.5,230.0 L812.7,228.3 L812.9,226.5 L813.1,224.7 L813.3,223.0 L813.5,221.2 L813.7,219.5 L813.9,217.8 L814.1,216.1 L814.3,214.4 L814.5,212.7 L814.7,211.1 L814.9,209.4 L815.1,207.8 L815.3,206.2 L815.5,204.7 L815.7,203.1 L815.9,201.6 L816.1,200.1 L816.3,198.6 L816.5,197.1 L816.7,195.7 L816.9,194.3 L817.1,192.9 L817.3,191.5 L817.5,190.2 L817.7,188.8 L817.9,187.5 L818.1,186.1 L818.3,184.8 L818.5,183.5 L818.7,182.2 L819.0,180.3 L819.3,178.4 L819.6,176.5 L819.9,174.7 L820.2,172.9 L820.5,171.1 L820.8,169.3 L821.1,167.6 L821.4,165.9 L821.7,164.2 L822.0,162.5 L822.3,160.9 L822.6,159.2 L822.9,157.7 L823.2,156.1 L823.5,154.5 L823.8,153.0 L824.1,151.5 L824.4,150.0 L824.7,148.5 L825.0,147.0 L825.3,145.5 L825.6,144.0 L825.9,142.5 L826.2,141.0 L826.5,139.6 L826.8,138.2 L827.1,136.8 L827.4,135.4 L827.7,134.1 L828.1,132.5 L828.5,130.9 L828.9,129.4 L829.3,128.1 L829.8,126.5 L830.3,125.2 L830.8,123.9 L831.3,122.7 L831.9,121.2 L832.5,119.9 L833.1,118.7 L833.8,117.4 L834.6,116.2 L835.5,115.3 L842.0,119.9 L842.4,121.3 L842.8,122.7 L843.2,124.1 L843.6,125.6 L844.0,127.0 L844.4,128.5 L844.8,130.0 L845.2,131.5 L845.6,133.0 L846.0,134.5 L846.4,136.0 L846.8,137.5 L847.2,139.0 L847.6,140.6 L848.0,142.3 L848.3,143.6 L848.6,145.0 L848.9,146.5 L849.2,148.0 L849.5,149.5 L849.8,151.1 L850.1,152.8 L850.4,154.5 L850.7,156.2 L851.0,158.0 L851.3,159.8 L851.6,161.7 L851.9,163.6 L852.1,164.9 L852.3,166.2 L852.5,167.5 L852.7,168.8 L852.9,170.2 L853.1,171.6 L853.3,172.9 L853.5,174.3 L853.7,175.7 L853.9,177.1 L854.1,178.6 L854.3,180.0 L854.5,181.4 L854.7,182.9 L854.9,184.4 L855.1,185.8 L855.3,187.3 L855.5,188.8 L855.7,190.3 L855.9,191.8 L856.1,193.3 L856.3,194.9 L856.5,196.4 L856.7,198.0 L856.9,199.7 L857.1,201.3 L857.3,203.0 L857.5,204.7 L857.7,206.5 L857.9,208.3 L858.1,210.1 L858.3,211.9 L858.5,213.7 L858.7,215.6 L858.9,217.4 L859.1,219.3 L859.3,221.2 L859.5,223.1 L859.7,225.0 L859.9,226.9 L860.1,228.8 L860.3,230.7 L860.5,232.7 L860.7,234.6 L860.9,236.5 L861.1,238.4 L861.3,240.3 L861.5,242.1 L861.7,244.0 L861.9,245.9 L862.1,247.7 L862.3,249.6 L862.5,251.5 L862.7,253.4 L862.9,255.3 L863.1,257.3 L863.3,259.2 L863.5,261.1 L863.7,263.0 L863.9,264.9 L864.1,266.8 L864.3,268.8 L864.5,270.7 L864.7,272.5 L864.9,274.4 L865.1,276.3 L865.3,278.2 L865.5,280.0 L865.7,281.8 L865.9,283.7 L866.1,285.5 L866.3,287.3 L866.5,289.1 L866.7,290.9 L866.9,292.7 L867.1,294.4 L867.3,296.2 L867.5,298.0 L867.7,299.7 L867.9,301.5 L868.1,303.2 L868.3,304.9 L868.5,306.6 L868.7,308.3 L868.9,309.9 L869.1,311.6 L869.3,313.2 L869.5,314.8 L869.7,316.5 L869.9,318.1 L870.1,319.7 L870.3,321.3 L870.5,323.0 L870.7,324.6 L870.9,326.3 L871.1,328.0 L871.3,329.7 L871.5,331.5 L871.7,333.3 L871.9,335.1 L872.1,336.9 L872.3,338.9 L872.5,340.9 L872.7,343.0 L872.9,345.2 L873.1,347.4 L873.3,349.6 L873.5,351.9 L873.7,354.2 L873.9,356.5 L874.1,358.8 L874.3,361.1 L874.5,363.3 L874.7,365.5 L874.9,367.7 L875.1,369.8 L875.3,371.9 L875.5,373.8 L875.7,375.7 L875.9,377.5 L876.1,379.2 L876.3,380.8 L876.5,382.3 L876.7,383.8 L876.9,385.2 L877.1,386.7 L877.3,388.0 L877.5,389.4 L877.7,390.7 L877.9,392.0 L878.2,393.9 L878.5,395.8 L878.8,397.6 L879.1,399.4 L879.4,401.1 L879.7,402.8 L880.0,404.4 L880.3,406.1 L880.6,407.7 L880.9,409.4 L881.2,411.0 L881.5,412.6 L881.8,414.3 L882.1,415.9 L882.4,417.6 L882.7,419.3 L883.0,421.0 L883.3,422.8 L883.6,424.5 L883.9,426.3 L884.2,428.1 L884.5,429.9 L884.8,431.7 L885.1,433.5 L885.4,435.3 L885.7,437.1 L886.0,438.9 L886.3,440.6 L886.6,442.3 L886.9,444.0 L887.2,445.7 L887.5,447.3 L887.8,448.9 L888.1,450.4 L888.4,451.9 L888.7,453.3 L889.0,454.6 L889.3,455.9 L889.7,457.6 L890.1,459.1 L890.5,460.5 L890.9,461.9 L891.3,463.3 L891.7,464.7 L892.1,466.0 L892.5,467.3 L892.9,468.6 L893.4,470.1 L893.9,471.6 L894.4,473.0 L894.9,474.3 L895.4,475.6 L896.0,476.9 L896.6,478.2 L897.3,479.4 L898.1,480.6 L898.9,481.7 L899.7,482.7 L900.6,483.8 L901.5,484.9 L902.4,485.9 L903.4,486.8 L904.5,487.5 L905.7,488.1 L907.0,488.2 L908.3,487.7 L909.4,487.0 L910.4,486.0 L911.3,484.9 L912.1,483.9 L912.9,482.8 L913.7,481.6 L914.5,480.4 L915.3,479.2 L916.0,477.9 L916.6,476.6 L917.2,475.3 L917.7,474.0 L918.2,472.7 L918.7,471.3 L919.2,469.9 L919.7,468.4 L920.1,467.1 L920.5,465.8 L920.9,464.4 L921.3,463.1 L921.7,461.6 L922.1,460.2 L922.5,458.7 L922.9,457.1 L923.2,455.8 L923.5,454.4 L923.8,452.9 L924.1,451.3 L924.4,449.7 L924.7,448.0 L925.0,446.2 L925.3,444.4 L925.6,442.6 L925.9,440.7 L926.2,438.8 L926.5,436.9 L926.7,435.6 L926.9,434.3 L927.1,433.0 L927.3,431.7 L927.5,430.4 L927.7,429.1 L928.0,427.2 L928.3,425.3 L928.6,423.5 L928.9,421.6 L929.2,419.9 L929.5,418.2 L929.8,416.5 L930.1,414.9 L930.4,413.3 L930.7,411.8 L931.0,410.3 L931.3,408.8 L931.6,407.3 L931.9,405.8 L932.2,404.3 L932.5,402.8 L932.8,401.2 L933.1,399.7 L933.4,398.1 L933.7,396.4 L934.0,394.8 L934.3,393.0 L934.6,391.2 L934.9,389.3 L935.1,388.0 L935.3,386.6 L935.5,385.2 L935.7,383.8 L935.9,382.3 L936.1,380.8 L936.3,379.2 L936.5,377.5 L936.7,375.6 L936.9,373.6 L937.1,371.6 L937.3,369.4 L937.5,367.1 L937.7,364.8 L937.9,362.4 L938.1,359.9 L938.3,357.4 L938.5,354.9 L938.7,352.3 L938.9,349.7 L939.1,347.2 L939.3,344.6 L939.5,342.1 L939.7,339.6 L939.9,337.2 L940.1,334.8 L940.3,332.3 L940.4,331.0 L940.5,329.7 L940.6,328.3 L940.7,327.0 L940.8,325.6 L940.9,324.2 L941.0,322.9 L941.1,321.5 L941.2,320.1 L941.3,318.8 L941.4,317.4 L941.5,316.1 L941.6,314.8 L941.8,312.3 L942.0,309.9 L942.2,307.7 L942.4,305.7 L942.6,304.0 L942.8,302.5 L943.0,301.1 L943.2,299.7 L943.5,297.9 L943.8,296.2 L944.1,294.6 L944.4,293.2 L944.7,291.8 L945.0,290.5 L945.3,289.2 L945.7,287.5 L946.1,285.8 L946.4,284.5 L946.7,283.2 L947.0,281.7 L947.3,280.2 L947.6,278.5 L947.9,276.7 L948.2,274.8 L948.4,273.5 L948.6,272.1 L948.8,270.7 L949.0,269.3 L949.2,267.9 L949.4,266.4 L949.6,265.0 L949.8,263.5 L950.0,262.0" stroke="#052a69" stroke-dasharray="8.65 7.7 4.8 7.63 30.28 7.63 4.8 7.54 30.03 7.54 4.8 7.75 30.65 7.75 4.8 7.78 30.75 7.78 4.8 7.63 30.3 7.63 4.8 7.86 31 7.86 4.8 7.63 30.3 7.63 4.8 7.84 30.93 7.84 4.8 7.49 29.88 7.49 4.8 7.49 29.88 7.49 4.8 7.66 30.39 7.66 4.8 7.54 30 7.54 4.8 7.57 30.1 7.57 4.8 7.84 30.91 7.84 4.8 7.8 30.81 7.8 4.8 7.47 29.8 7.47 4.8 7.57 30.12 7.57 4.8 7.86 30.99 7.86 4.8 7.76 30.67 7.76 4.8 7.37 29.5 7.37 4.8 7.62 30.26 7.62 4.8 7.79 30.78 7.79 4.8 7.64 30.32 7.64 4.8 7.63 30.3 7.63 4.8 7.91 31.13 7.91 4.8 7.66 30.37 7.66 4.8 7.69 30.48 7.69 4.8 7.73 30.6 7.73 4.8 7.27 29.2 7.27 4.8 7.78 30.73 7.78 4.8 7.68 30.43 7.68 4.8 7.77 30.7 7.77 4.8 7.15 28.83 7.15 4.8 7.68 30.43 7.68 4.8 7.39 29.55 7.39 4.8 7.49 29.86 7.49 4.8 7.67 30.4 7.67 4.8 7.76 30.67 7.76 4.8 7.61 30.23 7.61 4.8 7.32 29.34 7.32 4.8 8.18 31.94 8.18 4.8 7.61 30.24 7.61 4.8 7.61 30.24 7.61 4.8 7.54 30.01 7.54 4.8 7.59 30.18 7.59 4.8 7.54 30.02 7.54 4.8 7.73 30.58 7.73 4.8 7.59 30.16 7.59 4.8 7.5 29.9 7.5 4.8 7.6 30.2 7.6 4.8 7.7 30.51 7.7 4.8 7.78 30.73 7.78 4.8 7.5 29.88 7.5 4.8 7.6 30.19 7.6 4.8 7.62 30.25 7.62 4.8 7.51 29.93 7.51 4.8 7.76 30.68 7.76 4.8 7.66 30.39 7.66 4.8 7.7 30.5 7.7 4.8 7.7 21.37 1000"/>
</g>
</g>
<g>
<circle cx="139.3" cy="596.5" r="13.1" fill="#2ecc71"/>
<circle cx="208.0" cy="596.5" r="13.1" fill="#bf00bf"/>
<circle cx="278.3" cy="596.5" r="13.1" fill="#2ecc71"/>
<circle cx="348.3" cy="596.5" r="13.1" fill="#bf00bf"/>
<circle cx="418.4" cy="596.5" r="13.1" fill="#2ecc71"/>
<circle cx="488.5" cy="596.5" r="13.1" fill="#bf00bf"/>
<circle cx="557.1" cy="596.5" r="13.1" fill="#3498db"/>
<circle cx="627.3" cy="596.5" r="13.1" fill="#ff0000"/>
<circle cx="697.4" cy="596.5" r="13.1" fill="#3498db"/>
<circle cx="767.5" cy="596.5" r="13.1" fill="#ff0000"/>
<circle cx="837.6" cy="596.5" r="13.1" fill="#3498db"/>
<circle cx="906.4" cy="596.5" r="13.1" fill="#ff0000"/>
</g>
<rect x="98.5" y="2.6" width="848.9" height="631.4" fill="none" stroke="#000" stroke-width="2.1"/>
<g stroke="#000" stroke-width="2.1">
<line x1="168.6" y1="634.0" x2="168.6" y2="642.9"/>
<line x1="346.6" y1="634.0" x2="346.6" y2="642.9"/>
<line x1="522.8" y1="634.0" x2="522.8" y2="642.9"/>
<line x1="699.2" y1="634.0" x2="699.2" y2="642.9"/>
<line x1="877.2" y1="634.0" x2="877.2" y2="642.9"/>
<line x1="98.5" y1="634.0" x2="89.2" y2="634.0"/>
<line x1="98.5" y1="560.4" x2="89.2" y2="560.4"/>
<line x1="98.5" y1="485.2" x2="89.2" y2="485.2"/>
<line x1="98.5" y1="411.6" x2="89.2" y2="411.6"/>
<line x1="98.5" y1="336.4" x2="89.2" y2="336.4"/>
<line x1="98.5" y1="262.8" x2="89.2" y2="262.8"/>
<line x1="98.5" y1="187.6" x2="89.2" y2="187.6"/>
<line x1="98.5" y1="114.0" x2="89.2" y2="114.0"/>
<line x1="98.5" y1="38.6" x2="89.2" y2="38.6"/>
</g>
<g fill="#000" style="opacity:.999">
<text x="36.0" y="643.2" font-size="30.8" text-anchor="start" textLength="43.2" lengthAdjust="spacingAndGlyphs">0.0</text>
<text x="36.0" y="569.6" font-size="30.8" text-anchor="start" textLength="43.2" lengthAdjust="spacingAndGlyphs">0.1</text>
<text x="36.0" y="494.4" font-size="30.8" text-anchor="start" textLength="43.2" lengthAdjust="spacingAndGlyphs">0.2</text>
<text x="36.0" y="420.8" font-size="30.8" text-anchor="start" textLength="43.2" lengthAdjust="spacingAndGlyphs">0.3</text>
<text x="36.0" y="345.6" font-size="30.8" text-anchor="start" textLength="43.2" lengthAdjust="spacingAndGlyphs">0.4</text>
<text x="36.0" y="272.0" font-size="30.8" text-anchor="start" textLength="43.2" lengthAdjust="spacingAndGlyphs">0.5</text>
<text x="36.0" y="196.8" font-size="30.8" text-anchor="start" textLength="43.2" lengthAdjust="spacingAndGlyphs">0.6</text>
<text x="36.0" y="123.2" font-size="30.8" text-anchor="start" textLength="43.2" lengthAdjust="spacingAndGlyphs">0.7</text>
<text x="36.0" y="47.8" font-size="30.8" text-anchor="start" textLength="43.2" lengthAdjust="spacingAndGlyphs">0.8</text>
<text x="136.1" y="670.9" font-size="30.8" text-anchor="start" textLength="65.9" lengthAdjust="spacingAndGlyphs">−1.0</text>
<text x="312.7" y="670.9" font-size="30.8" text-anchor="start" textLength="65.6" lengthAdjust="spacingAndGlyphs">−0.5</text>
<text x="499.7" y="670.9" font-size="30.8" text-anchor="start" textLength="43.8" lengthAdjust="spacingAndGlyphs">0.0</text>
<text x="676.0" y="670.9" font-size="30.8" text-anchor="start" textLength="43.8" lengthAdjust="spacingAndGlyphs">0.5</text>
<text x="855.1" y="670.9" font-size="30.8" text-anchor="start" textLength="42.3" lengthAdjust="spacingAndGlyphs">1.0</text>
<text x="421.0" y="706.2" font-size="30.8" text-anchor="start" textLength="202.0" lengthAdjust="spacingAndGlyphs">Distance (nm)</text>
<text transform="translate(20.8,413.5) rotate(-90)" font-size="30.8" textLength="181" lengthAdjust="spacingAndGlyphs">Composition</text>
</g>
<rect x="112.2" y="15.8" width="422.8" height="92.5" rx="5.2" ry="5.2" fill="#ffffff" fill-opacity="0.8" stroke="#cccccc" stroke-opacity="0.8" stroke-width="1.9"/>
<g fill="none" stroke-width="4.7">
<line x1="121.3" y1="38.4" x2="183.2" y2="38.4" stroke="#2ecc71"/>
<line x1="123.8" y1="79.7" x2="180.9" y2="79.7" stroke="#003c14" stroke-dasharray="30.5 7.7 4.8 7.7"/>
<line x1="354.0" y1="38.4" x2="416.0" y2="38.4" stroke="#3498db"/>
<line x1="356.5" y1="79.7" x2="413.7" y2="79.7" stroke="#052a69" stroke-dasharray="30.5 7.7 4.8 7.7"/>
</g>
<g fill="#000" style="opacity:.999">
<text x="203.8" y="47.6" font-size="30.8" text-anchor="start" textLength="93.2" lengthAdjust="spacingAndGlyphs">Sc_K-0</text>
<text x="203.8" y="88.4" font-size="30.8" text-anchor="start" textLength="93.2" lengthAdjust="spacingAndGlyphs">Sc_K-5</text>
<text x="433.9" y="47.6" font-size="30.8" text-anchor="start" textLength="87.5" lengthAdjust="spacingAndGlyphs">Ti_K-0</text>
<text x="433.9" y="88.4" font-size="30.8" text-anchor="start" textLength="87.5" lengthAdjust="spacingAndGlyphs">Ti_K-5</text>
</g>
</svg></body></html>
